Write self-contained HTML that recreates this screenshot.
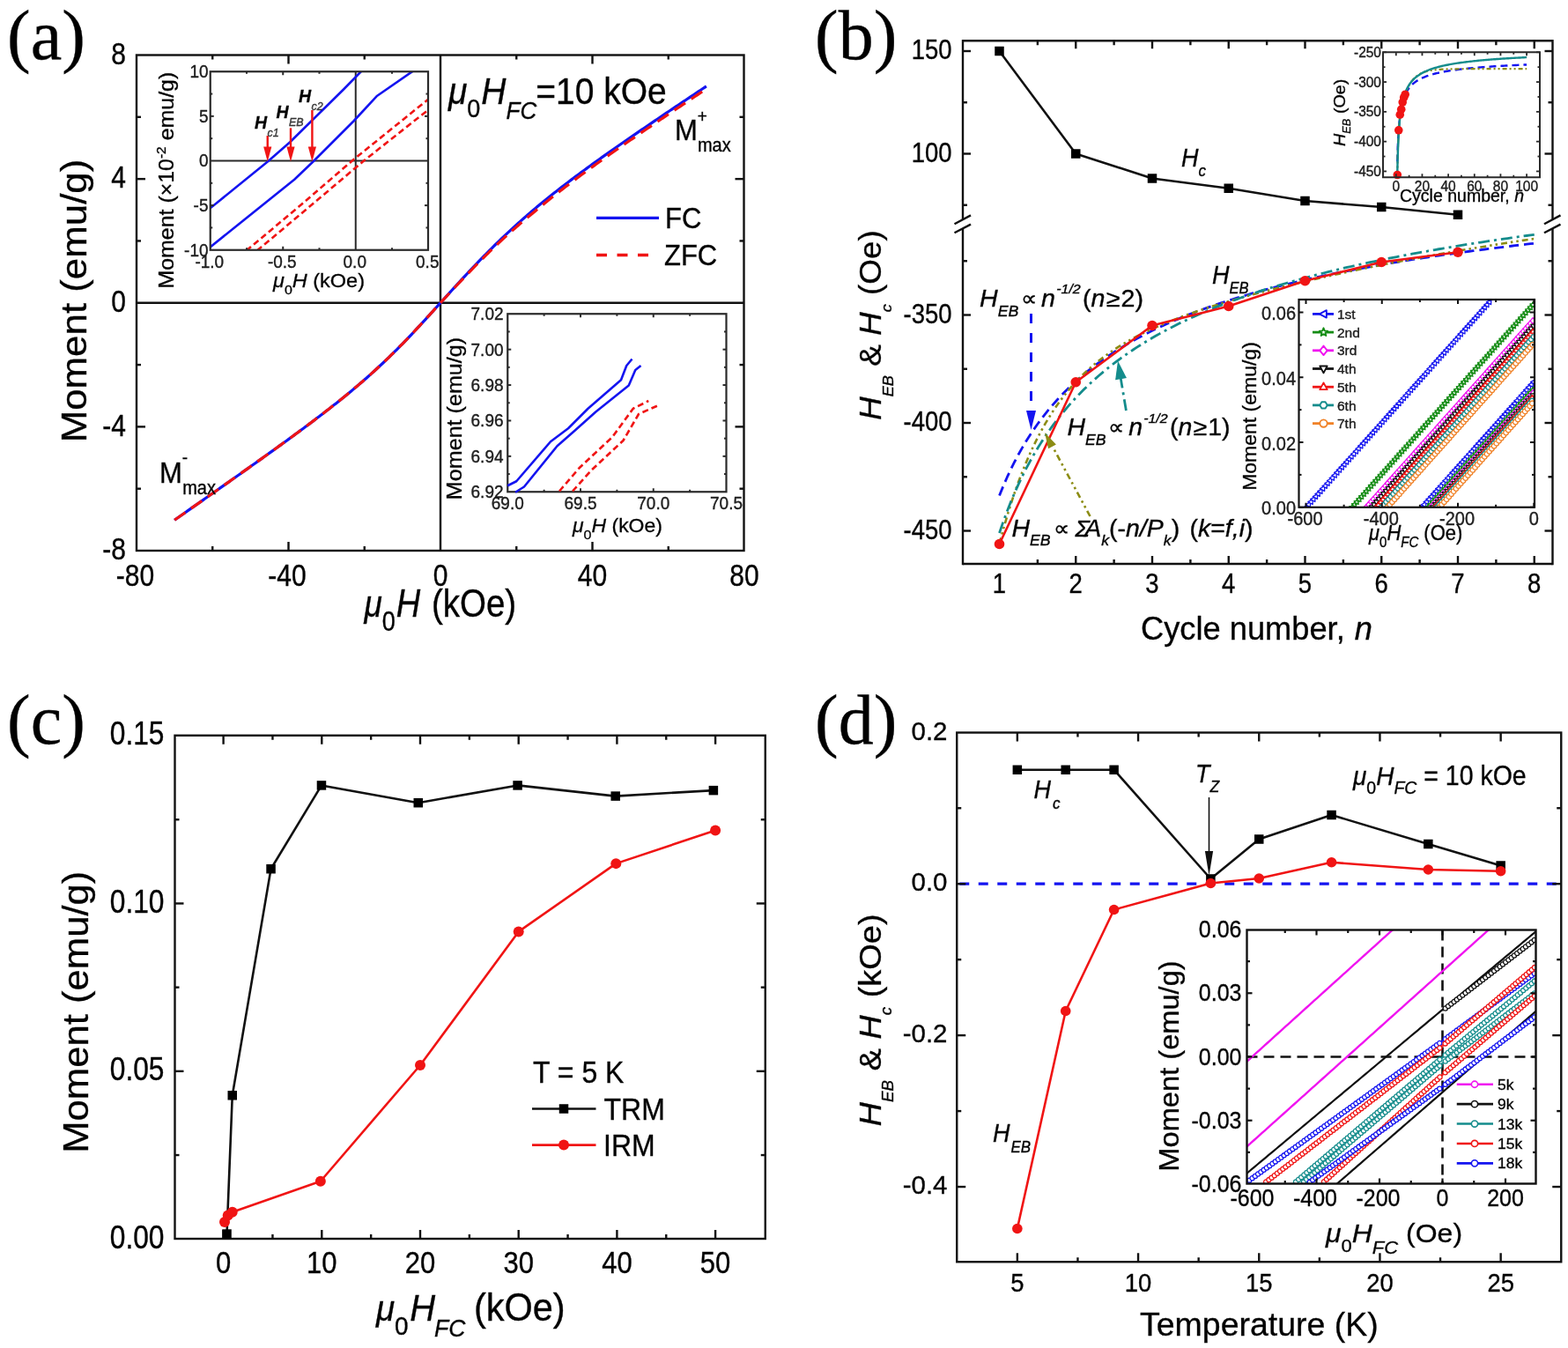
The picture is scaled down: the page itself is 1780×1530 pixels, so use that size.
<!DOCTYPE html>
<html><head><meta charset="utf-8"><title>Figure</title>
<style>html,body{margin:0;padding:0;background:#fff;overflow:hidden}svg{display:block}</style>
</head><body>
<svg xmlns="http://www.w3.org/2000/svg" width="1780" height="1530" viewBox="0 0 1780 1530" font-family="'Liberation Sans', Arial, Helvetica, sans-serif" fill="#000">
<style>text{stroke:#111;stroke-width:0.35px}</style>
<rect width="1780" height="1530" fill="#fff"/>
<text transform="translate(8,67) scale(1,1.0)" font-size="80" font-family="'Liberation Serif', 'Times New Roman', serif" >(a)</text>
<line x1="155" y1="343.75" x2="844.5" y2="343.75" stroke="#111" stroke-width="2.4" />
<line x1="500" y1="62.5" x2="500" y2="625" stroke="#111" stroke-width="2.4" />
<polyline points="198.12,590.25 200.28,588.74 202.44,587.23 204.59,585.72 206.75,584.21 208.91,582.7 211.06,581.19 213.22,579.68 215.38,578.16 217.53,576.65 219.69,575.14 221.84,573.63 224,572.12 226.16,570.6 228.31,569.09 230.47,567.57 232.62,566.06 234.78,564.55 236.94,563.03 239.09,561.52 241.25,560 243.41,558.48 245.56,556.97 247.72,555.45 249.88,553.93 252.03,552.41 254.19,550.9 256.34,549.38 258.5,547.86 260.66,546.34 262.81,544.81 264.97,543.29 267.12,541.77 269.28,540.25 271.44,538.72 273.59,537.2 275.75,535.67 277.91,534.14 280.06,532.61 282.22,531.08 284.38,529.55 286.53,528.02 288.69,526.49 290.84,524.96 293,523.42 295.16,521.88 297.31,520.34 299.47,518.8 301.62,517.26 303.78,515.72 305.94,514.17 308.09,512.63 310.25,511.08 312.41,509.53 314.56,507.97 316.72,506.42 318.88,504.86 321.03,503.3 323.19,501.73 325.34,500.17 327.5,498.6 329.66,497.03 331.81,495.45 333.97,493.87 336.12,492.29 338.28,490.7 340.44,489.12 342.59,487.52 344.75,485.92 346.91,484.32 349.06,482.71 351.22,481.1 353.38,479.49 355.53,477.86 357.69,476.24 359.84,474.6 362,472.96 364.16,471.32 366.31,469.67 368.47,468.01 370.62,466.34 372.78,464.67 374.94,462.99 377.09,461.3 379.25,459.61 381.41,457.9 383.56,456.19 385.72,454.46 387.88,452.73 390.03,450.99 392.19,449.24 394.34,447.47 396.5,445.7 398.66,443.91 400.81,442.12 402.97,440.31 405.12,438.49 407.28,436.65 409.44,434.81 411.59,432.95 413.75,431.07 415.91,429.18 418.06,427.28 420.22,425.36 422.38,423.43 424.53,421.48 426.69,419.51 428.84,417.53 431,415.54 433.16,413.53 435.31,411.5 437.47,409.45 439.62,407.39 441.78,405.31 443.94,403.21 446.09,401.1 448.25,398.97 450.41,396.82 452.56,394.65 454.72,392.47 456.88,390.28 459.03,388.06 461.19,385.83 463.34,383.59 465.5,381.33 467.66,379.06 469.81,376.77 471.97,374.47 474.12,372.16 476.28,369.84 478.44,367.5 480.59,365.16 482.75,362.8 484.91,360.44 487.06,358.07 489.22,355.69 491.38,353.31 493.53,350.92 495.69,348.53 497.84,346.14 500,343.75 502.16,341.37 504.31,338.99 506.47,336.61 508.62,334.23 510.78,331.85 512.94,329.48 515.09,327.12 517.25,324.76 519.41,322.4 521.56,320.05 523.72,317.71 525.88,315.38 528.03,313.06 530.19,310.75 532.34,308.44 534.5,306.15 536.66,303.87 538.81,301.6 540.97,299.34 543.12,297.1 545.28,294.86 547.44,292.64 549.59,290.44 551.75,288.25 553.91,286.07 556.06,283.91 558.22,281.76 560.38,279.63 562.53,277.51 564.69,275.4 566.84,273.31 569,271.24 571.16,269.18 573.31,267.14 575.47,265.11 577.62,263.1 579.78,261.1 581.94,259.11 584.09,257.15 586.25,255.19 588.41,253.25 590.56,251.33 592.72,249.41 594.88,247.52 597.03,245.63 599.19,243.76 601.34,241.91 603.5,240.06 605.66,238.23 607.81,236.41 609.97,234.6 612.12,232.81 614.28,231.03 616.44,229.26 618.59,227.5 620.75,225.75 622.91,224.01 625.06,222.28 627.22,220.56 629.38,218.85 631.53,217.16 633.69,215.47 635.84,213.79 638,212.12 640.16,210.45 642.31,208.8 644.47,207.15 646.62,205.52 648.78,203.89 650.94,202.26 653.09,200.65 655.25,199.04 657.41,197.44 659.56,195.84 661.72,194.25 663.88,192.67 666.03,191.09 668.19,189.52 670.34,187.95 672.5,186.39 674.66,184.84 676.81,183.29 678.97,181.74 681.12,180.2 683.28,178.66 685.44,177.13 687.59,175.6 689.75,174.08 691.91,172.56 694.06,171.04 696.22,169.53 698.38,168.02 700.53,166.51 702.69,165.01 704.84,163.51 707,162.01 709.16,160.52 711.31,159.03 713.47,157.54 715.62,156.05 717.78,154.57 719.94,153.09 722.09,151.61 724.25,150.13 726.41,148.65 728.56,147.18 730.72,145.71 732.88,144.24 735.03,142.78 737.19,141.31 739.34,139.85 741.5,138.38 743.66,136.92 745.81,135.46 747.97,134.01 750.12,132.55 752.28,131.1 754.44,129.64 756.59,128.19 758.75,126.74 760.91,125.29 763.06,123.84 765.22,122.39 767.38,120.94 769.53,119.5 771.69,118.05 773.84,116.61 776,115.17 778.16,113.72 780.31,112.28 782.47,110.84 784.62,109.4 786.78,107.96 788.94,106.52 791.09,105.08 793.25,103.65 795.41,102.21 797.56,100.77 799.72,99.34 801.88,97.9" fill="none" stroke="#1414f0" stroke-width="3.2" stroke-linejoin="round" />
<polyline points="198.12,590.25 200.28,588.74 202.44,587.23 204.59,585.72 206.75,584.21 208.91,582.7 211.06,581.19 213.22,579.68 215.38,578.16 217.53,576.65 219.69,575.14 221.84,573.63 224,572.12 226.16,570.6 228.31,569.09 230.47,567.57 232.62,566.06 234.78,564.55 236.94,563.03 239.09,561.52 241.25,560 243.41,558.48 245.56,556.97 247.72,555.45 249.88,553.93 252.03,552.41 254.19,550.9 256.34,549.38 258.5,547.86 260.66,546.34 262.81,544.81 264.97,543.29 267.12,541.77 269.28,540.25 271.44,538.72 273.59,537.2 275.75,535.67 277.91,534.14 280.06,532.61 282.22,531.08 284.38,529.55 286.53,528.02 288.69,526.49 290.84,524.96 293,523.42 295.16,521.88 297.31,520.34 299.47,518.8 301.62,517.26 303.78,515.72 305.94,514.17 308.09,512.63 310.25,511.08 312.41,509.53 314.56,507.97 316.72,506.42 318.88,504.86 321.03,503.3 323.19,501.73 325.34,500.17 327.5,498.6 329.66,497.03 331.81,495.45 333.97,493.87 336.12,492.29 338.28,490.7 340.44,489.12 342.59,487.52 344.75,485.92 346.91,484.32 349.06,482.71 351.22,481.1 353.38,479.49 355.53,477.86 357.69,476.24 359.84,474.6 362,472.96 364.16,471.32 366.31,469.67 368.47,468.01 370.62,466.34 372.78,464.67 374.94,462.99 377.09,461.3 379.25,459.61 381.41,457.9 383.56,456.19 385.72,454.46 387.88,452.73 390.03,450.99 392.19,449.24 394.34,447.47 396.5,445.7 398.66,443.91 400.81,442.12 402.97,440.31 405.12,438.49 407.28,436.65 409.44,434.81 411.59,432.95 413.75,431.07 415.91,429.18 418.06,427.28 420.22,425.36 422.38,423.43 424.53,421.48 426.69,419.51 428.84,417.53 431,415.54 433.16,413.53 435.31,411.5 437.47,409.45 439.62,407.39 441.78,405.31 443.94,403.21 446.09,401.1 448.25,398.97 450.41,396.82 452.56,394.65 454.72,392.47 456.88,390.28 459.03,388.06 461.19,385.83 463.34,383.59 465.5,381.33 467.66,379.06 469.81,376.77 471.97,374.47 474.12,372.16 476.28,369.84 478.44,367.5 480.59,365.16 482.75,362.8 484.91,360.44 487.06,358.07 489.22,355.69 491.38,353.31 493.53,350.92 495.69,348.53 497.84,346.14 500,343.75 502.16,341.43 504.31,339.11 506.47,336.79 508.62,334.47 510.78,332.15 512.94,329.84 515.09,327.54 517.25,325.24 519.41,322.94 521.56,320.65 523.72,318.37 525.88,316.1 528.03,313.84 530.19,311.59 532.34,309.34 534.5,307.11 536.66,304.89 538.81,302.68 540.97,300.48 543.12,298.3 545.28,296.12 547.44,293.96 549.59,291.82 551.75,289.69 553.91,287.57 556.06,285.47 558.22,283.38 560.38,281.31 562.53,279.25 564.69,277.2 566.84,275.17 569,273.16 571.16,271.16 573.31,269.18 575.47,267.21 577.62,265.26 579.78,263.32 581.94,261.39 584.09,259.49 586.25,257.59 588.41,255.71 590.56,253.85 592.72,251.99 594.88,250.16 597.03,248.33 599.19,246.52 601.34,244.73 603.5,242.94 605.66,241.17 607.81,239.41 609.97,237.6 612.12,235.81 614.28,234.03 616.44,232.26 618.59,230.5 620.75,228.75 622.91,227.01 625.06,225.28 627.22,223.56 629.38,221.85 631.53,220.16 633.69,218.47 635.84,216.79 638,215.12 640.16,213.45 642.31,211.8 644.47,210.15 646.62,208.52 648.78,206.89 650.94,205.26 653.09,203.65 655.25,202.04 657.41,200.44 659.56,198.84 661.72,197.25 663.88,195.67 666.03,194.09 668.19,192.52 670.34,190.95 672.5,189.39 674.66,187.84 676.81,186.29 678.97,184.74 681.12,183.2 683.28,181.66 685.44,180.13 687.59,178.6 689.75,177.08 691.91,175.56 694.06,174.04 696.22,172.53 698.38,171.02 700.53,169.51 702.69,168.01 704.84,166.51 707,165.01 709.16,163.52 711.31,162.03 713.47,160.54 715.62,159.05 717.78,157.57 719.94,156.09 722.09,154.61 724.25,153.13 726.41,151.65 728.56,150.18 730.72,148.71 732.88,147.24 735.03,145.78 737.19,144.31 739.34,142.85 741.5,141.38 743.66,139.92 745.81,138.46 747.97,137.01 750.12,135.55 752.28,134.1 754.44,132.64 756.59,131.19 758.75,129.74 760.91,128.29 763.06,126.84 765.22,125.39 767.38,123.94 769.53,122.5 771.69,121.05 773.84,119.61 776,118.17 778.16,116.72 780.31,115.28 782.47,113.84 784.62,112.4 786.78,110.96 788.94,109.52 791.09,108.08 793.25,106.65 795.41,105.21 797.56,103.77 799.72,102.34 801.88,100.9" fill="none" stroke="#f01414" stroke-width="3.2" stroke-linejoin="round" stroke-dasharray="15 8"/>
<rect x="155" y="62.5" width="689.5" height="562.5" fill="none" stroke="#111" stroke-width="2.4" />
<line x1="241.25" y1="625" x2="241.25" y2="620" stroke="#111" stroke-width="2.4" />
<line x1="241.25" y1="62.5" x2="241.25" y2="67.5" stroke="#111" stroke-width="2.4" />
<line x1="327.5" y1="625" x2="327.5" y2="615" stroke="#111" stroke-width="2.4" />
<line x1="327.5" y1="62.5" x2="327.5" y2="72.5" stroke="#111" stroke-width="2.4" />
<line x1="413.75" y1="625" x2="413.75" y2="620" stroke="#111" stroke-width="2.4" />
<line x1="413.75" y1="62.5" x2="413.75" y2="67.5" stroke="#111" stroke-width="2.4" />
<line x1="586.25" y1="625" x2="586.25" y2="620" stroke="#111" stroke-width="2.4" />
<line x1="586.25" y1="62.5" x2="586.25" y2="67.5" stroke="#111" stroke-width="2.4" />
<line x1="672.5" y1="625" x2="672.5" y2="615" stroke="#111" stroke-width="2.4" />
<line x1="672.5" y1="62.5" x2="672.5" y2="72.5" stroke="#111" stroke-width="2.4" />
<line x1="758.75" y1="625" x2="758.75" y2="620" stroke="#111" stroke-width="2.4" />
<line x1="758.75" y1="62.5" x2="758.75" y2="67.5" stroke="#111" stroke-width="2.4" />
<line x1="155" y1="554.69" x2="160" y2="554.69" stroke="#111" stroke-width="2.4" />
<line x1="844.5" y1="554.69" x2="839.5" y2="554.69" stroke="#111" stroke-width="2.4" />
<line x1="155" y1="484.37" x2="165" y2="484.37" stroke="#111" stroke-width="2.4" />
<line x1="844.5" y1="484.37" x2="834.5" y2="484.37" stroke="#111" stroke-width="2.4" />
<line x1="155" y1="414.06" x2="160" y2="414.06" stroke="#111" stroke-width="2.4" />
<line x1="844.5" y1="414.06" x2="839.5" y2="414.06" stroke="#111" stroke-width="2.4" />
<line x1="155" y1="273.44" x2="160" y2="273.44" stroke="#111" stroke-width="2.4" />
<line x1="844.5" y1="273.44" x2="839.5" y2="273.44" stroke="#111" stroke-width="2.4" />
<line x1="155" y1="203.13" x2="165" y2="203.13" stroke="#111" stroke-width="2.4" />
<line x1="844.5" y1="203.13" x2="834.5" y2="203.13" stroke="#111" stroke-width="2.4" />
<line x1="155" y1="132.81" x2="160" y2="132.81" stroke="#111" stroke-width="2.4" />
<line x1="844.5" y1="132.81" x2="839.5" y2="132.81" stroke="#111" stroke-width="2.4" />
<text transform="translate(143,72.8) scale(1,1.145)" font-size="30" text-anchor="end" >8</text>
<text transform="translate(143,213.42) scale(1,1.145)" font-size="30" text-anchor="end" >4</text>
<text transform="translate(143,354.05) scale(1,1.145)" font-size="30" text-anchor="end" >0</text>
<text transform="translate(143,494.67) scale(1,1.145)" font-size="30" text-anchor="end" >-4</text>
<text transform="translate(143,635.3) scale(1,1.145)" font-size="30" text-anchor="end" >-8</text>
<text transform="translate(153.5,665.2) scale(1,1.145)" font-size="30" text-anchor="middle" >-80</text>
<text transform="translate(326,665.2) scale(1,1.145)" font-size="30" text-anchor="middle" >-40</text>
<text transform="translate(500,665.2) scale(1,1.145)" font-size="30" text-anchor="middle" >0</text>
<text transform="translate(672.5,665.2) scale(1,1.145)" font-size="30" text-anchor="middle" >40</text>
<text transform="translate(845,665.2) scale(1,1.145)" font-size="30" text-anchor="middle" >80</text>
<text transform="translate(98.2,341.5) scale(1,1.07) rotate(-90)" font-size="41" text-anchor="middle" >Moment (emu/g)</text>
<text transform="translate(413.5,699.5) scale(1,1.15)"><tspan y="0" font-size="37" font-style="italic">μ</tspan><tspan y="13.91" font-size="27">0</tspan><tspan y="0" font-size="38" font-style="italic" dx="1">H</tspan><tspan y="0" font-size="38.5" dx="2"> (kOe)</tspan></text>
<text transform="translate(509,117.5) scale(1,1.07)"><tspan y="0" font-size="39" font-style="italic">μ</tspan><tspan y="14.95" font-size="27">0</tspan><tspan y="0" font-size="39" font-style="italic" dx="1">H</tspan><tspan y="15.89" font-size="26" font-style="italic">FC</tspan><tspan y="0" font-size="39" dx="-1">=10 kOe</tspan></text>
<text transform="translate(766,158.5) scale(1,1.07)"><tspan y="0" font-size="31">M</tspan><tspan y="-18.69" font-size="19">+</tspan><tspan y="12.15" font-size="20" dx="-11">max</tspan></text>
<text transform="translate(181,547.5) scale(1,1.07)"><tspan y="0" font-size="31">M</tspan><tspan y="-19.63" font-size="19">-</tspan><tspan y="12.62" font-size="20" dx="-6">max</tspan></text>
<line x1="677" y1="247.4" x2="748" y2="247.4" stroke="#1414f0" stroke-width="3.4" />
<line x1="677" y1="289.5" x2="737" y2="289.5" stroke="#f01414" stroke-width="3.4" stroke-dasharray="12 11.5"/>
<text transform="translate(755,259) scale(1,1.07)" font-size="31" >FC</text>
<text transform="translate(754,301) scale(1,1.07)" font-size="31" >ZFC</text>
<rect x="238.75" y="81.25" width="247.25" height="202.5" fill="#fff"/>
<line x1="238.75" y1="182.5" x2="486" y2="182.5" stroke="#2a2a2a" stroke-width="2.0" />
<line x1="403.75" y1="81.25" x2="403.75" y2="283.75" stroke="#2a2a2a" stroke-width="2.0" />
<clipPath id="ci1"><rect x="238.75" y="81.25" width="247.25" height="202.5"/></clipPath>
<g clip-path="url(#ci1)">
<polyline points="238,236.8 303.8,183.5 329,161.5 390,101.5 410,81 412,79" fill="none" stroke="#1414f0" stroke-width="2.6" stroke-linejoin="round" />
<polyline points="238,281 334.2,203.7 355.4,183.5 401.9,137 428.2,108.7 467.7,81.4 470,79.5" fill="none" stroke="#1414f0" stroke-width="2.6" stroke-linejoin="round" />
<polyline points="279.6,284.6 342.3,232 400.9,181.5 487,112" fill="none" stroke="#f01414" stroke-width="2.6" stroke-linejoin="round" stroke-dasharray="7 4"/>
<polyline points="291.7,284.6 354.4,232 413,182.5 487,124" fill="none" stroke="#f01414" stroke-width="2.6" stroke-linejoin="round" stroke-dasharray="7 4"/>
</g>
<rect x="238.75" y="81.25" width="247.25" height="202.5" fill="none" stroke="#2a2a2a" stroke-width="2.2" />
<line x1="280" y1="283.75" x2="280" y2="281.25" stroke="#2a2a2a" stroke-width="2.0" />
<line x1="280" y1="81.25" x2="280" y2="83.75" stroke="#2a2a2a" stroke-width="2.0" />
<line x1="321.25" y1="283.75" x2="321.25" y2="279.75" stroke="#2a2a2a" stroke-width="2.0" />
<line x1="321.25" y1="81.25" x2="321.25" y2="85.25" stroke="#2a2a2a" stroke-width="2.0" />
<line x1="362.5" y1="283.75" x2="362.5" y2="281.25" stroke="#2a2a2a" stroke-width="2.0" />
<line x1="362.5" y1="81.25" x2="362.5" y2="83.75" stroke="#2a2a2a" stroke-width="2.0" />
<line x1="445" y1="283.75" x2="445" y2="281.25" stroke="#2a2a2a" stroke-width="2.0" />
<line x1="445" y1="81.25" x2="445" y2="83.75" stroke="#2a2a2a" stroke-width="2.0" />
<line x1="238.75" y1="258.44" x2="241.25" y2="258.44" stroke="#2a2a2a" stroke-width="2.0" />
<line x1="486" y1="258.44" x2="483.5" y2="258.44" stroke="#2a2a2a" stroke-width="2.0" />
<line x1="238.75" y1="233.12" x2="242.75" y2="233.12" stroke="#2a2a2a" stroke-width="2.0" />
<line x1="486" y1="233.12" x2="482" y2="233.12" stroke="#2a2a2a" stroke-width="2.0" />
<line x1="238.75" y1="207.81" x2="241.25" y2="207.81" stroke="#2a2a2a" stroke-width="2.0" />
<line x1="486" y1="207.81" x2="483.5" y2="207.81" stroke="#2a2a2a" stroke-width="2.0" />
<line x1="238.75" y1="157.19" x2="241.25" y2="157.19" stroke="#2a2a2a" stroke-width="2.0" />
<line x1="486" y1="157.19" x2="483.5" y2="157.19" stroke="#2a2a2a" stroke-width="2.0" />
<line x1="238.75" y1="131.88" x2="242.75" y2="131.88" stroke="#2a2a2a" stroke-width="2.0" />
<line x1="486" y1="131.88" x2="482" y2="131.88" stroke="#2a2a2a" stroke-width="2.0" />
<line x1="238.75" y1="106.56" x2="241.25" y2="106.56" stroke="#2a2a2a" stroke-width="2.0" />
<line x1="486" y1="106.56" x2="483.5" y2="106.56" stroke="#2a2a2a" stroke-width="2.0" />
<text transform="translate(236.5,88.05) scale(1,1.07)" font-size="19" text-anchor="end" fill="#222" >10</text>
<text transform="translate(236.5,138.68) scale(1,1.07)" font-size="19" text-anchor="end" fill="#222" >5</text>
<text transform="translate(236.5,189.3) scale(1,1.07)" font-size="19" text-anchor="end" fill="#222" >0</text>
<text transform="translate(236.5,239.93) scale(1,1.07)" font-size="19" text-anchor="end" fill="#222" >-5</text>
<text transform="translate(236.5,290.55) scale(1,1.07)" font-size="19" text-anchor="end" fill="#222" >-10</text>
<text transform="translate(237.75,304) scale(1,1.07)" font-size="19" text-anchor="middle" fill="#222" >-1.0</text>
<text transform="translate(320.25,304) scale(1,1.07)" font-size="19" text-anchor="middle" fill="#222" >-0.5</text>
<text transform="translate(402.75,304) scale(1,1.07)" font-size="19" text-anchor="middle" fill="#222" >0.0</text>
<text transform="translate(485.25,304) scale(1,1.07)" font-size="19" text-anchor="middle" fill="#222" >0.5</text>
<text transform="translate(197,327.5) scale(1,1.07) rotate(-90)"><tspan y="0" font-size="23.3">Moment (×10</tspan><tspan y="-9" font-size="14.5">-2</tspan><tspan y="0" font-size="23.3"> emu/g)</tspan></text>
<text transform="translate(310,325.5) scale(1,0.92)"><tspan y="0" font-size="23.5" font-style="italic">μ</tspan><tspan y="8.7" font-size="16">0</tspan><tspan y="0" font-size="23.5" font-style="italic">H</tspan><tspan y="0" font-size="23.5"> (kOe)</tspan></text>
<line x1="303.75" y1="154" x2="303.75" y2="170" stroke="#f01414" stroke-width="2.4" />
<polygon points="303.75,183.5 299.15,166.5 308.35,166.5" fill="#f01414"/>
<line x1="330" y1="145.3" x2="330" y2="170" stroke="#f01414" stroke-width="2.4" />
<polygon points="330,183.5 325.4,166.5 334.6,166.5" fill="#f01414"/>
<line x1="354.4" y1="125" x2="354.4" y2="170" stroke="#f01414" stroke-width="2.4" />
<polygon points="354.4,183.5 349.8,166.5 359,166.5" fill="#f01414"/>
<text transform="translate(289,146) scale(1,1.0)"><tspan y="0" font-size="19.5" font-style="italic" font-weight="bold">H</tspan></text>
<text transform="translate(303.5,155) scale(1,1.0)" font-size="12.5" fill="#555" font-style="italic">c1</text>
<text transform="translate(313.5,133.8) scale(1,1.0)"><tspan y="0" font-size="19.5" font-style="italic" font-weight="bold">H</tspan></text>
<text transform="translate(328,142.8) scale(1,1.0)" font-size="12.5" fill="#555" font-style="italic">EB</text>
<text transform="translate(339,115.6) scale(1,1.0)"><tspan y="0" font-size="19.5" font-style="italic" font-weight="bold">H</tspan></text>
<text transform="translate(353.5,124.6) scale(1,1.0)" font-size="12.5" fill="#555" font-style="italic">c2</text>
<rect x="576.25" y="356.25" width="248.25" height="202" fill="none" stroke="#2a2a2a" stroke-width="2.2" />
<line x1="617.62" y1="558.25" x2="617.62" y2="555.75" stroke="#2a2a2a" stroke-width="2.0" />
<line x1="617.62" y1="356.25" x2="617.62" y2="358.75" stroke="#2a2a2a" stroke-width="2.0" />
<line x1="659" y1="558.25" x2="659" y2="554.25" stroke="#2a2a2a" stroke-width="2.0" />
<line x1="659" y1="356.25" x2="659" y2="360.25" stroke="#2a2a2a" stroke-width="2.0" />
<line x1="700.38" y1="558.25" x2="700.38" y2="555.75" stroke="#2a2a2a" stroke-width="2.0" />
<line x1="700.38" y1="356.25" x2="700.38" y2="358.75" stroke="#2a2a2a" stroke-width="2.0" />
<line x1="741.75" y1="558.25" x2="741.75" y2="554.25" stroke="#2a2a2a" stroke-width="2.0" />
<line x1="741.75" y1="356.25" x2="741.75" y2="360.25" stroke="#2a2a2a" stroke-width="2.0" />
<line x1="783.12" y1="558.25" x2="783.12" y2="555.75" stroke="#2a2a2a" stroke-width="2.0" />
<line x1="783.12" y1="356.25" x2="783.12" y2="358.75" stroke="#2a2a2a" stroke-width="2.0" />
<line x1="576.25" y1="538.05" x2="578.75" y2="538.05" stroke="#2a2a2a" stroke-width="2.0" />
<line x1="824.5" y1="538.05" x2="822" y2="538.05" stroke="#2a2a2a" stroke-width="2.0" />
<line x1="576.25" y1="517.85" x2="580.25" y2="517.85" stroke="#2a2a2a" stroke-width="2.0" />
<line x1="824.5" y1="517.85" x2="820.5" y2="517.85" stroke="#2a2a2a" stroke-width="2.0" />
<line x1="576.25" y1="497.65" x2="578.75" y2="497.65" stroke="#2a2a2a" stroke-width="2.0" />
<line x1="824.5" y1="497.65" x2="822" y2="497.65" stroke="#2a2a2a" stroke-width="2.0" />
<line x1="576.25" y1="477.45" x2="580.25" y2="477.45" stroke="#2a2a2a" stroke-width="2.0" />
<line x1="824.5" y1="477.45" x2="820.5" y2="477.45" stroke="#2a2a2a" stroke-width="2.0" />
<line x1="576.25" y1="457.25" x2="578.75" y2="457.25" stroke="#2a2a2a" stroke-width="2.0" />
<line x1="824.5" y1="457.25" x2="822" y2="457.25" stroke="#2a2a2a" stroke-width="2.0" />
<line x1="576.25" y1="437.05" x2="580.25" y2="437.05" stroke="#2a2a2a" stroke-width="2.0" />
<line x1="824.5" y1="437.05" x2="820.5" y2="437.05" stroke="#2a2a2a" stroke-width="2.0" />
<line x1="576.25" y1="416.85" x2="578.75" y2="416.85" stroke="#2a2a2a" stroke-width="2.0" />
<line x1="824.5" y1="416.85" x2="822" y2="416.85" stroke="#2a2a2a" stroke-width="2.0" />
<line x1="576.25" y1="396.65" x2="580.25" y2="396.65" stroke="#2a2a2a" stroke-width="2.0" />
<line x1="824.5" y1="396.65" x2="820.5" y2="396.65" stroke="#2a2a2a" stroke-width="2.0" />
<line x1="576.25" y1="376.45" x2="578.75" y2="376.45" stroke="#2a2a2a" stroke-width="2.0" />
<line x1="824.5" y1="376.45" x2="822" y2="376.45" stroke="#2a2a2a" stroke-width="2.0" />
<text transform="translate(571.5,565.25) scale(1,1.07)" font-size="19" text-anchor="end" fill="#222" >6.92</text>
<text transform="translate(571.5,524.85) scale(1,1.07)" font-size="19" text-anchor="end" fill="#222" >6.94</text>
<text transform="translate(571.5,484.45) scale(1,1.07)" font-size="19" text-anchor="end" fill="#222" >6.96</text>
<text transform="translate(571.5,444.05) scale(1,1.07)" font-size="19" text-anchor="end" fill="#222" >6.98</text>
<text transform="translate(571.5,403.65) scale(1,1.07)" font-size="19" text-anchor="end" fill="#222" >7.00</text>
<text transform="translate(571.5,363.25) scale(1,1.07)" font-size="19" text-anchor="end" fill="#222" >7.02</text>
<text transform="translate(576.25,577.5) scale(1,1.07)" font-size="19" text-anchor="middle" fill="#222" >69.0</text>
<text transform="translate(659,577.5) scale(1,1.07)" font-size="19" text-anchor="middle" fill="#222" >69.5</text>
<text transform="translate(741.75,577.5) scale(1,1.07)" font-size="19" text-anchor="middle" fill="#222" >70.0</text>
<text transform="translate(824.5,577.5) scale(1,1.07)" font-size="19" text-anchor="middle" fill="#222" >70.5</text>
<text transform="translate(524,475) scale(1,1.07) rotate(-90)" font-size="23.5" text-anchor="middle" >Moment (emu/g)</text>
<text transform="translate(650,604) scale(1,0.93)"><tspan y="0" font-size="23" font-style="italic">μ</tspan><tspan y="8.6" font-size="16">0</tspan><tspan y="0" font-size="23" font-style="italic">H</tspan><tspan y="0" font-size="23"> (kOe)</tspan></text>
<polyline points="576.25,551.25 586.25,546.25 625,501.25 645,486.25 667.5,463.75 705,431.25 711.25,415 717.5,407.5" fill="none" stroke="#1414f0" stroke-width="2.6" stroke-linejoin="round" />
<polyline points="585,558.75 595,552.5 632.5,506.25 652.5,488.75 676.25,467.5 713.75,437.5 721.25,420 727.5,415" fill="none" stroke="#1414f0" stroke-width="2.6" stroke-linejoin="round" />
<polyline points="635,557.5 657.5,531.25 695,496.25 718.75,463.75 736.25,455" fill="none" stroke="#f01414" stroke-width="2.6" stroke-linejoin="round" stroke-dasharray="7 4"/>
<polyline points="650,557.5 671.25,533.75 707.5,500 725,470 747.5,460" fill="none" stroke="#f01414" stroke-width="2.6" stroke-linejoin="round" stroke-dasharray="7 4"/>
<text transform="translate(925,67) scale(1,1.0)" font-size="80" font-family="'Liberation Serif', 'Times New Roman', serif" >(b)</text>
<line x1="1093" y1="46.25" x2="1762.5" y2="46.25" stroke="#111" stroke-width="2.4" />
<line x1="1093" y1="640" x2="1762.5" y2="640" stroke="#111" stroke-width="2.4" />
<line x1="1093" y1="45.05" x2="1093" y2="249.5" stroke="#111" stroke-width="2.4" />
<line x1="1093" y1="259.5" x2="1093" y2="641.2" stroke="#111" stroke-width="2.4" />
<line x1="1083.5" y1="254.2" x2="1102" y2="244.4" stroke="#111" stroke-width="2.4" />
<line x1="1083.5" y1="264.2" x2="1102" y2="254.6" stroke="#111" stroke-width="2.4" />
<line x1="1762.5" y1="45.05" x2="1762.5" y2="249.5" stroke="#111" stroke-width="2.4" />
<line x1="1762.5" y1="259.5" x2="1762.5" y2="641.2" stroke="#111" stroke-width="2.4" />
<line x1="1753" y1="254.2" x2="1771.5" y2="244.4" stroke="#111" stroke-width="2.4" />
<line x1="1753" y1="264.2" x2="1771.5" y2="254.6" stroke="#111" stroke-width="2.4" />
<line x1="1177.88" y1="640" x2="1177.88" y2="635" stroke="#111" stroke-width="2.4" />
<line x1="1177.88" y1="46.25" x2="1177.88" y2="51.25" stroke="#111" stroke-width="2.4" />
<line x1="1221.25" y1="640" x2="1221.25" y2="631" stroke="#111" stroke-width="2.4" />
<line x1="1221.25" y1="46.25" x2="1221.25" y2="55.25" stroke="#111" stroke-width="2.4" />
<line x1="1264.62" y1="640" x2="1264.62" y2="635" stroke="#111" stroke-width="2.4" />
<line x1="1264.62" y1="46.25" x2="1264.62" y2="51.25" stroke="#111" stroke-width="2.4" />
<line x1="1308" y1="640" x2="1308" y2="631" stroke="#111" stroke-width="2.4" />
<line x1="1308" y1="46.25" x2="1308" y2="55.25" stroke="#111" stroke-width="2.4" />
<line x1="1351.38" y1="640" x2="1351.38" y2="635" stroke="#111" stroke-width="2.4" />
<line x1="1351.38" y1="46.25" x2="1351.38" y2="51.25" stroke="#111" stroke-width="2.4" />
<line x1="1394.75" y1="640" x2="1394.75" y2="631" stroke="#111" stroke-width="2.4" />
<line x1="1394.75" y1="46.25" x2="1394.75" y2="55.25" stroke="#111" stroke-width="2.4" />
<line x1="1438.12" y1="640" x2="1438.12" y2="635" stroke="#111" stroke-width="2.4" />
<line x1="1438.12" y1="46.25" x2="1438.12" y2="51.25" stroke="#111" stroke-width="2.4" />
<line x1="1481.5" y1="640" x2="1481.5" y2="631" stroke="#111" stroke-width="2.4" />
<line x1="1481.5" y1="46.25" x2="1481.5" y2="55.25" stroke="#111" stroke-width="2.4" />
<line x1="1524.88" y1="640" x2="1524.88" y2="635" stroke="#111" stroke-width="2.4" />
<line x1="1524.88" y1="46.25" x2="1524.88" y2="51.25" stroke="#111" stroke-width="2.4" />
<line x1="1568.25" y1="640" x2="1568.25" y2="631" stroke="#111" stroke-width="2.4" />
<line x1="1568.25" y1="46.25" x2="1568.25" y2="55.25" stroke="#111" stroke-width="2.4" />
<line x1="1611.62" y1="640" x2="1611.62" y2="635" stroke="#111" stroke-width="2.4" />
<line x1="1611.62" y1="46.25" x2="1611.62" y2="51.25" stroke="#111" stroke-width="2.4" />
<line x1="1655" y1="640" x2="1655" y2="631" stroke="#111" stroke-width="2.4" />
<line x1="1655" y1="46.25" x2="1655" y2="55.25" stroke="#111" stroke-width="2.4" />
<line x1="1698.38" y1="640" x2="1698.38" y2="635" stroke="#111" stroke-width="2.4" />
<line x1="1698.38" y1="46.25" x2="1698.38" y2="51.25" stroke="#111" stroke-width="2.4" />
<line x1="1741.75" y1="640" x2="1741.75" y2="631" stroke="#111" stroke-width="2.4" />
<line x1="1741.75" y1="46.25" x2="1741.75" y2="55.25" stroke="#111" stroke-width="2.4" />
<line x1="1093" y1="58" x2="1102" y2="58" stroke="#111" stroke-width="2.4" />
<line x1="1762.5" y1="58" x2="1753.5" y2="58" stroke="#111" stroke-width="2.4" />
<line x1="1093" y1="116.25" x2="1098" y2="116.25" stroke="#111" stroke-width="2.4" />
<line x1="1762.5" y1="116.25" x2="1757.5" y2="116.25" stroke="#111" stroke-width="2.4" />
<line x1="1093" y1="174.5" x2="1102" y2="174.5" stroke="#111" stroke-width="2.4" />
<line x1="1762.5" y1="174.5" x2="1753.5" y2="174.5" stroke="#111" stroke-width="2.4" />
<line x1="1093" y1="232.75" x2="1098" y2="232.75" stroke="#111" stroke-width="2.4" />
<line x1="1762.5" y1="232.75" x2="1757.5" y2="232.75" stroke="#111" stroke-width="2.4" />
<line x1="1093" y1="296.25" x2="1098" y2="296.25" stroke="#111" stroke-width="2.4" />
<line x1="1762.5" y1="296.25" x2="1757.5" y2="296.25" stroke="#111" stroke-width="2.4" />
<line x1="1093" y1="357.5" x2="1102" y2="357.5" stroke="#111" stroke-width="2.4" />
<line x1="1762.5" y1="357.5" x2="1753.5" y2="357.5" stroke="#111" stroke-width="2.4" />
<line x1="1093" y1="418.75" x2="1098" y2="418.75" stroke="#111" stroke-width="2.4" />
<line x1="1762.5" y1="418.75" x2="1757.5" y2="418.75" stroke="#111" stroke-width="2.4" />
<line x1="1093" y1="480" x2="1102" y2="480" stroke="#111" stroke-width="2.4" />
<line x1="1762.5" y1="480" x2="1753.5" y2="480" stroke="#111" stroke-width="2.4" />
<line x1="1093" y1="541.25" x2="1098" y2="541.25" stroke="#111" stroke-width="2.4" />
<line x1="1762.5" y1="541.25" x2="1757.5" y2="541.25" stroke="#111" stroke-width="2.4" />
<line x1="1093" y1="602.5" x2="1102" y2="602.5" stroke="#111" stroke-width="2.4" />
<line x1="1762.5" y1="602.5" x2="1753.5" y2="602.5" stroke="#111" stroke-width="2.4" />
<text transform="translate(1080.5,67.01) scale(1,1.128)" font-size="27.5" text-anchor="end" >150</text>
<text transform="translate(1080.5,183.51) scale(1,1.128)" font-size="27.5" text-anchor="end" >100</text>
<text transform="translate(1080.5,366.51) scale(1,1.128)" font-size="27.5" text-anchor="end" >-350</text>
<text transform="translate(1080.5,489.01) scale(1,1.128)" font-size="27.5" text-anchor="end" >-400</text>
<text transform="translate(1080.5,611.51) scale(1,1.128)" font-size="27.5" text-anchor="end" >-450</text>
<text transform="translate(1134.5,673.03) scale(1,1.12)" font-size="27.5" text-anchor="middle" >1</text>
<text transform="translate(1221.25,673.03) scale(1,1.12)" font-size="27.5" text-anchor="middle" >2</text>
<text transform="translate(1308,673.03) scale(1,1.12)" font-size="27.5" text-anchor="middle" >3</text>
<text transform="translate(1394.75,673.03) scale(1,1.12)" font-size="27.5" text-anchor="middle" >4</text>
<text transform="translate(1481.5,673.03) scale(1,1.12)" font-size="27.5" text-anchor="middle" >5</text>
<text transform="translate(1568.25,673.03) scale(1,1.12)" font-size="27.5" text-anchor="middle" >6</text>
<text transform="translate(1655,673.03) scale(1,1.12)" font-size="27.5" text-anchor="middle" >7</text>
<text transform="translate(1741.75,673.03) scale(1,1.12)" font-size="27.5" text-anchor="middle" >8</text>
<text transform="translate(1000,477) scale(1,1.07) rotate(-90)"><tspan y="0" font-size="34.5" font-style="italic">H</tspan><tspan y="14" font-size="17" font-style="italic">EB</tspan><tspan y="0" font-size="34.5"> &amp; </tspan><tspan y="0" font-size="34.5" font-style="italic">H</tspan><tspan y="12" font-size="17" font-style="italic">c</tspan><tspan y="0" font-size="34.5"> (Oe)</tspan></text>
<text transform="translate(1295,725.5) scale(1,1.02)" textLength="263" lengthAdjust="spacingAndGlyphs"><tspan y="0" font-size="35.5">Cycle number, </tspan><tspan y="0" font-size="35.5" font-style="italic" dx="1">n</tspan></text>
<polyline points="1134.5,58 1221.25,174.5 1308,202.5 1394.75,213.75 1481.5,228 1568.25,235 1655,243.75" fill="none" stroke="#111" stroke-width="2.6" stroke-linejoin="round" />
<rect x="1129.25" y="52.75" width="10.5" height="10.5" fill="#000"/>
<rect x="1216" y="169.25" width="10.5" height="10.5" fill="#000"/>
<rect x="1302.75" y="197.25" width="10.5" height="10.5" fill="#000"/>
<rect x="1389.5" y="208.5" width="10.5" height="10.5" fill="#000"/>
<rect x="1476.25" y="222.75" width="10.5" height="10.5" fill="#000"/>
<rect x="1563" y="229.75" width="10.5" height="10.5" fill="#000"/>
<rect x="1649.75" y="238.5" width="10.5" height="10.5" fill="#000"/>
<polyline points="1134.5,562.57 1138.84,551.89 1143.17,541.95 1147.51,532.67 1151.85,523.97 1156.19,515.8 1160.53,508.11 1164.86,500.84 1169.2,493.97 1173.54,487.46 1177.88,481.28 1182.21,475.4 1186.55,469.8 1190.89,464.45 1195.22,459.34 1199.56,454.45 1203.9,449.77 1208.24,445.28 1212.58,440.96 1216.91,436.82 1221.25,432.83 1225.59,428.98 1229.92,425.28 1234.26,421.7 1238.6,418.25 1242.94,414.91 1247.28,411.68 1251.61,408.56 1255.95,405.53 1260.29,402.6 1264.62,399.76 1268.96,397 1273.3,394.32 1277.64,391.71 1281.97,389.18 1286.31,386.72 1290.65,384.32 1294.99,381.99 1299.33,379.72 1303.66,377.51 1308,375.35 1312.34,373.24 1316.67,371.19 1321.01,369.18 1325.35,367.23 1329.69,365.31 1334.03,363.45 1338.36,361.62 1342.7,359.83 1347.04,358.09 1351.38,356.38 1355.71,354.7 1360.05,353.07 1364.39,351.46 1368.72,349.89 1373.06,348.35 1377.4,346.84 1381.74,345.36 1386.08,343.91 1390.41,342.48 1394.75,341.09 1399.09,339.71 1403.42,338.37 1407.76,337.05 1412.1,335.75 1416.44,334.47 1420.78,333.22 1425.11,331.99 1429.45,330.78 1433.79,329.59 1438.12,328.42 1442.46,327.27 1446.8,326.14 1451.14,325.02 1455.47,323.93 1459.81,322.85 1464.15,321.79 1468.49,320.74 1472.83,319.71 1477.16,318.7 1481.5,317.7 1485.84,316.72 1490.18,315.75 1494.51,314.8 1498.85,313.86 1503.19,312.93 1507.53,312.01 1511.86,311.11 1516.2,310.22 1520.54,309.35 1524.88,308.48 1529.21,307.63 1533.55,306.79 1537.89,305.96 1542.22,305.14 1546.56,304.33 1550.9,303.53 1555.24,302.75 1559.58,301.97 1563.91,301.2 1568.25,300.44 1572.59,299.69 1576.93,298.95 1581.26,298.22 1585.6,297.5 1589.94,296.79 1594.28,296.08 1598.61,295.39 1602.95,294.7 1607.29,294.02 1611.62,293.35 1615.96,292.68 1620.3,292.03 1624.64,291.38 1628.97,290.74 1633.31,290.1 1637.65,289.47 1641.99,288.85 1646.33,288.24 1650.66,287.63 1655,287.03 1659.34,286.43 1663.68,285.84 1668.01,285.26 1672.35,284.69 1676.69,284.12 1681.03,283.55 1685.36,282.99 1689.7,282.44 1694.04,281.89 1698.38,281.35 1702.71,280.81 1707.05,280.28 1711.39,279.76 1715.72,279.24 1720.06,278.72 1724.4,278.21 1728.74,277.7 1733.08,277.2 1737.41,276.71 1741.75,276.22" fill="none" stroke="#1414f0" stroke-width="2.8" stroke-linejoin="round" stroke-dasharray="11 6"/>
<polyline points="1134.5,617.15 1138.84,601.11 1143.17,586.14 1147.51,572.17 1151.85,559.13 1156.19,546.95 1160.53,535.56 1164.86,524.91 1169.2,514.94 1173.54,505.61 1177.88,496.86 1182.21,488.65 1186.55,480.94 1190.89,473.7 1195.22,466.89 1199.56,460.49 1203.9,454.45 1208.24,448.76 1212.58,443.4 1216.91,438.32 1221.25,433.52 1225.59,428.98 1229.92,424.68 1234.26,420.59 1238.6,416.71 1242.94,413.02 1247.28,409.51 1251.61,406.16 1255.95,402.96 1260.29,399.9 1264.62,396.98 1268.96,394.18 1273.3,391.49 1277.64,388.91 1281.97,386.43 1286.31,384.04 1290.65,381.74 1294.99,379.51 1299.33,377.37 1303.66,375.29 1308,373.28 1312.34,371.33 1316.67,369.43 1321.01,367.59 1325.35,365.81 1329.69,364.06 1334.03,362.37 1338.36,360.71 1342.7,359.09 1347.04,357.51 1351.38,355.97 1355.71,354.45 1360.05,352.97 1364.39,351.52 1368.72,350.09 1373.06,348.69 1377.4,347.32 1381.74,345.97 1386.08,344.64 1390.41,343.33 1394.75,342.04 1399.09,340.77 1403.42,339.52 1407.76,338.29 1412.1,337.07 1416.44,335.87 1420.78,334.68 1425.11,333.51 1429.45,332.36 1433.79,331.21 1438.12,330.08 1442.46,328.97 1446.8,327.86 1451.14,326.77 1455.47,325.69 1459.81,324.62 1464.15,323.56 1468.49,322.51 1472.83,321.47 1477.16,320.44 1481.5,319.42 1485.84,318.41 1490.18,317.4 1494.51,316.41 1498.85,315.43 1503.19,314.45 1507.53,313.49 1511.86,312.53 1516.2,311.58 1520.54,310.63 1524.88,309.7 1529.21,308.77 1533.55,307.85 1537.89,306.94 1542.22,306.03 1546.56,305.14 1550.9,304.24 1555.24,303.36 1559.58,302.48 1563.91,301.61 1568.25,300.75 1572.59,299.89 1576.93,299.04 1581.26,298.2 1585.6,297.36 1589.94,296.53 1594.28,295.7 1598.61,294.88 1602.95,294.07 1607.29,293.26 1611.62,292.46 1615.96,291.67 1620.3,290.88 1624.64,290.09 1628.97,289.32 1633.31,288.54 1637.65,287.78 1641.99,287.02 1646.33,286.26 1650.66,285.51 1655,284.77 1659.34,284.03 1663.68,283.29 1668.01,282.57 1672.35,281.84 1676.69,281.13 1681.03,280.41 1685.36,279.71 1689.7,279 1694.04,278.31 1698.38,277.61 1702.71,276.93 1707.05,276.24 1711.39,275.57 1715.72,274.89 1720.06,274.22 1724.4,273.56 1728.74,272.9 1733.08,272.25 1737.41,271.6 1741.75,270.96" fill="none" stroke="#8c8c14" stroke-width="2.6" stroke-linejoin="round" stroke-dasharray="7 4 2.5 4 2.5 4"/>
<polyline points="1134.5,604.95 1138.84,592.33 1143.17,580.57 1147.51,569.6 1151.85,559.31 1156.19,549.65 1160.53,540.55 1164.86,531.96 1169.2,523.84 1173.54,516.14 1177.88,508.83 1182.21,501.87 1186.55,495.25 1190.89,488.93 1195.22,482.88 1199.56,477.1 1203.9,471.56 1208.24,466.25 1212.58,461.15 1216.91,456.25 1221.25,451.53 1225.59,446.98 1229.92,442.6 1234.26,438.38 1238.6,434.29 1242.94,430.35 1247.28,426.53 1251.61,422.84 1255.95,419.26 1260.29,415.79 1264.62,412.43 1268.96,409.16 1273.3,405.99 1277.64,402.91 1281.97,399.92 1286.31,397.01 1290.65,394.18 1294.99,391.42 1299.33,388.73 1303.66,386.11 1308,383.56 1312.34,381.07 1316.67,378.64 1321.01,376.27 1325.35,373.96 1329.69,371.7 1334.03,369.49 1338.36,367.33 1342.7,365.22 1347.04,363.15 1351.38,361.13 1355.71,359.15 1360.05,357.21 1364.39,355.31 1368.72,353.46 1373.06,351.63 1377.4,349.85 1381.74,348.1 1386.08,346.38 1390.41,344.7 1394.75,343.05 1399.09,341.42 1403.42,339.83 1407.76,338.27 1412.1,336.73 1416.44,335.23 1420.78,333.74 1425.11,332.29 1429.45,330.86 1433.79,329.45 1438.12,328.07 1442.46,326.71 1446.8,325.37 1451.14,324.05 1455.47,322.76 1459.81,321.48 1464.15,320.23 1468.49,318.99 1472.83,317.77 1477.16,316.58 1481.5,315.39 1485.84,314.23 1490.18,313.09 1494.51,311.96 1498.85,310.85 1503.19,309.75 1507.53,308.67 1511.86,307.6 1516.2,306.55 1520.54,305.52 1524.88,304.49 1529.21,303.48 1533.55,302.49 1537.89,301.51 1542.22,300.54 1546.56,299.58 1550.9,298.64 1555.24,297.71 1559.58,296.79 1563.91,295.88 1568.25,294.98 1572.59,294.1 1576.93,293.22 1581.26,292.36 1585.6,291.51 1589.94,290.66 1594.28,289.83 1598.61,289.01 1602.95,288.19 1607.29,287.39 1611.62,286.6 1615.96,285.81 1620.3,285.03 1624.64,284.26 1628.97,283.51 1633.31,282.75 1637.65,282.01 1641.99,281.28 1646.33,280.55 1650.66,279.83 1655,279.12 1659.34,278.42 1663.68,277.72 1668.01,277.03 1672.35,276.35 1676.69,275.68 1681.03,275.01 1685.36,274.35 1689.7,273.7 1694.04,273.05 1698.38,272.41 1702.71,271.77 1707.05,271.15 1711.39,270.52 1715.72,269.91 1720.06,269.3 1724.4,268.69 1728.74,268.1 1733.08,267.5 1737.41,266.92 1741.75,266.33" fill="none" stroke="#148c8c" stroke-width="2.8" stroke-linejoin="round" stroke-dasharray="13 5 3 5"/>
<polyline points="1134.5,617.5 1221.25,433.75 1308,369.5 1394.75,347.5 1481.5,318.75 1568.25,297.5 1655,286.25" fill="none" stroke="#f01414" stroke-width="2.6" stroke-linejoin="round" />
<circle cx="1134.5" cy="617.5" r="5.8" fill="#f01414" stroke="none" stroke-width="0"/>
<circle cx="1221.25" cy="433.75" r="5.8" fill="#f01414" stroke="none" stroke-width="0"/>
<circle cx="1308" cy="369.5" r="5.8" fill="#f01414" stroke="none" stroke-width="0"/>
<circle cx="1394.75" cy="347.5" r="5.8" fill="#f01414" stroke="none" stroke-width="0"/>
<circle cx="1481.5" cy="318.75" r="5.8" fill="#f01414" stroke="none" stroke-width="0"/>
<circle cx="1568.25" cy="297.5" r="5.8" fill="#f01414" stroke="none" stroke-width="0"/>
<circle cx="1655" cy="286.25" r="5.8" fill="#f01414" stroke="none" stroke-width="0"/>
<line x1="1170.5" y1="356" x2="1170.5" y2="470" stroke="#1414f0" stroke-width="3" stroke-dasharray="11 11"/>
<polygon points="1170.5,488 1165,466 1176,466" fill="#1414f0"/>
<line x1="1278.4" y1="466" x2="1271.5" y2="425" stroke="#148c8c" stroke-width="2.8" stroke-dasharray="13 5 3 5"/>
<polygon points="1269,409.5 1278.93,429.11 1266.11,431.29" fill="#148c8c"/>
<line x1="1237.5" y1="586" x2="1196" y2="509" stroke="#8c8c14" stroke-width="2.6" stroke-dasharray="7 4 2.5 4 2.5 4"/>
<polygon points="1186,491 1198.89,504.52 1190.07,509.23" fill="#8c8c14"/>
<text transform="translate(1341,188.75) scale(1,1.07)"><tspan y="0" font-size="27" font-style="italic">H</tspan><tspan y="10.28" font-size="17" font-style="italic">c</tspan></text>
<text transform="translate(1376,322) scale(1,1.07)"><tspan y="0" font-size="27" font-style="italic">H</tspan><tspan y="10.28" font-size="16.5" font-style="italic">EB</tspan></text>
<text transform="translate(1112,347.8) scale(1,1.07)" textLength="186" lengthAdjust="spacingAndGlyphs"><tspan y="0" font-size="25" font-style="italic">H</tspan><tspan y="10.47" font-size="15.5" font-style="italic">EB</tspan><tspan y="-0.93" font-size="22" dx="2">∝</tspan><tspan y="0" font-size="25" font-style="italic" dx="5">n</tspan><tspan y="-13.55" font-size="14" font-style="italic" dx="1">-1/2</tspan><tspan y="0" font-size="25" dx="2">(</tspan><tspan y="0" font-size="25" font-style="italic">n</tspan><tspan y="0" font-size="25" dx="1">≥</tspan><tspan y="0" font-size="25" dx="1">2)</tspan></text>
<text transform="translate(1211.5,494.4) scale(1,1.07)" textLength="185" lengthAdjust="spacingAndGlyphs"><tspan y="0" font-size="25" font-style="italic">H</tspan><tspan y="9.53" font-size="15.5" font-style="italic">EB</tspan><tspan y="-0.93" font-size="22" dx="2">∝</tspan><tspan y="0" font-size="25" font-style="italic" dx="5">n</tspan><tspan y="-13.55" font-size="14" font-style="italic" dx="1">-1/2</tspan><tspan y="0" font-size="25" dx="2">(</tspan><tspan y="0" font-size="25" font-style="italic">n</tspan><tspan y="0" font-size="25" dx="1">≥</tspan><tspan y="0" font-size="25" dx="1">1)</tspan></text>
<text transform="translate(1148.5,608.5) scale(1,1.07)" textLength="274" lengthAdjust="spacingAndGlyphs"><tspan y="0" font-size="25" font-style="italic">H</tspan><tspan y="10.09" font-size="15.5" font-style="italic">EB</tspan><tspan y="-0.93" font-size="22" dx="3">∝</tspan><tspan y="0" font-size="24" font-style="italic" dx="6">Σ</tspan><tspan y="0" font-size="25" font-style="italic" dx="-5">A</tspan><tspan y="10.09" font-size="15.5" font-style="italic">k</tspan><tspan y="0" font-size="25">(-</tspan><tspan y="0" font-size="25" font-style="italic">n/P</tspan><tspan y="10.09" font-size="15.5" font-style="italic">k</tspan><tspan y="0" font-size="25">)</tspan><tspan y="0" font-size="25" dx="3"> (</tspan><tspan y="0" font-size="25" font-style="italic">k</tspan><tspan y="0" font-size="25">=</tspan><tspan y="0" font-size="25" font-style="italic">f,i</tspan><tspan y="0" font-size="25">)</tspan></text>
<rect x="1570" y="59.25" width="178" height="142.0" fill="#fff"/>
<clipPath id="cib"><rect x="1570" y="59.25" width="178" height="142.0"/></clipPath><g clip-path="url(#cib)">
<polyline points="1586.28,183.43 1586.65,170.53 1587.02,161 1587.4,153.6 1587.77,147.63 1588.14,142.69 1588.51,138.51 1588.88,134.91 1589.25,131.77 1589.62,129.01 1589.99,126.54 1590.36,124.32 1590.73,122.32 1591.1,120.5 1591.47,118.83 1591.84,117.29 1592.21,115.87 1592.59,114.55 1592.96,113.33 1593.33,112.18 1593.7,111.11 1595.18,107.41 1596.66,104.42 1598.15,101.95 1599.63,99.86 1601.11,98.06 1602.6,96.49 1604.08,95.11 1605.56,93.88 1607.04,92.77 1608.53,91.77 1610.01,90.85 1611.49,90.02 1612.98,89.25 1614.46,88.54 1615.94,87.88 1617.43,87.27 1618.91,86.7 1620.39,86.16 1621.88,85.65 1623.36,85.18 1624.84,84.73 1626.32,84.31 1627.81,83.91 1629.29,83.52 1630.77,83.16 1632.26,82.82 1633.74,82.49 1635.22,82.17 1636.7,81.87 1638.19,81.58 1639.67,81.3 1641.15,81.04 1642.64,80.78 1644.12,80.54 1645.6,80.3 1647.09,80.07 1648.57,79.85 1650.05,79.64 1651.53,79.43 1653.02,79.23 1654.5,79.04 1655.98,78.85 1657.47,78.67 1658.95,78.5 1660.43,78.32 1661.92,78.16 1663.4,78 1664.88,77.84 1666.37,77.69 1667.85,77.54 1669.33,77.4 1670.81,77.26 1672.3,77.12 1673.78,76.99 1675.26,76.86 1676.75,76.73 1678.23,76.61 1679.71,76.49 1681.19,76.37 1682.68,76.25 1684.16,76.14 1685.64,76.03 1687.13,75.92 1688.61,75.82 1690.09,75.72 1691.58,75.61 1693.06,75.52 1694.54,75.42 1696.02,75.32 1697.51,75.23 1698.99,75.14 1700.47,75.05 1701.96,74.96 1703.44,74.88 1704.92,74.79 1706.41,74.71 1707.89,74.63 1709.37,74.55 1710.86,74.47 1712.34,74.39 1713.82,74.31 1715.3,74.24 1716.79,74.17 1718.27,74.09 1719.75,74.02 1721.24,73.95 1722.72,73.88 1724.2,73.82 1725.68,73.75 1727.17,73.68 1728.65,73.62 1730.13,73.56 1731.62,73.49 1733.1,73.43" fill="none" stroke="#1414f0" stroke-width="2.4" stroke-linejoin="round" stroke-dasharray="8 5"/>
<polyline points="1586.28,198.49 1586.65,179.12 1587.02,165.3 1587.4,155.27 1587.77,147.83 1588.14,142.17 1588.51,137.74 1588.88,134.17 1589.25,131.2 1589.62,128.66 1589.99,126.43 1590.36,124.42 1590.73,122.58 1591.1,120.88 1591.47,119.29 1591.84,117.78 1592.21,116.34 1592.59,114.97 1592.96,113.66 1593.33,112.4 1593.7,111.19 1595.18,106.78 1596.66,102.97 1598.15,99.67 1599.63,96.81 1601.11,94.33 1602.6,92.18 1604.08,90.31 1605.56,88.7 1607.04,87.3 1608.53,86.08 1610.01,85.03 1611.49,84.12 1612.98,83.33 1614.46,82.64 1615.94,82.05 1617.43,81.53 1618.91,81.09 1620.39,80.7 1621.88,80.36 1623.36,80.07 1624.84,79.82 1626.32,79.6 1627.81,79.41 1629.29,79.25 1630.77,79.11 1632.26,78.98 1633.74,78.88 1635.22,78.78 1636.7,78.7 1638.19,78.63 1639.67,78.57 1641.15,78.52 1642.64,78.47 1644.12,78.43 1645.6,78.4 1647.09,78.37 1648.57,78.35 1650.05,78.32 1651.53,78.3 1653.02,78.29 1654.5,78.27 1655.98,78.26 1657.47,78.25 1658.95,78.24 1660.43,78.23 1661.92,78.22 1663.4,78.22 1664.88,78.21 1666.37,78.21 1667.85,78.2 1669.33,78.2 1670.81,78.2 1672.3,78.19 1673.78,78.19 1675.26,78.19 1676.75,78.19 1678.23,78.19 1679.71,78.19 1681.19,78.19 1682.68,78.18 1684.16,78.18 1685.64,78.18 1687.13,78.18 1688.61,78.18 1690.09,78.18 1691.58,78.18 1693.06,78.18 1694.54,78.18 1696.02,78.18 1697.51,78.18 1698.99,78.18 1700.47,78.18 1701.96,78.18 1703.44,78.18 1704.92,78.18 1706.41,78.18 1707.89,78.18 1709.37,78.18 1710.86,78.18 1712.34,78.18 1713.82,78.18 1715.3,78.18 1716.79,78.18 1718.27,78.18 1719.75,78.18 1721.24,78.18 1722.72,78.18 1724.2,78.18 1725.68,78.18 1727.17,78.18 1728.65,78.18 1730.13,78.18 1731.62,78.18 1733.1,78.18" fill="none" stroke="#8c8c14" stroke-width="2.2" stroke-linejoin="round" stroke-dasharray="5 3 2 3 2 3"/>
<polyline points="1586.28,195.13 1586.65,179.87 1587.02,168.6 1587.4,159.85 1587.77,152.79 1588.14,146.95 1588.51,142.01 1588.88,137.75 1589.25,134.04 1589.62,130.77 1589.99,127.85 1590.36,125.23 1590.73,122.86 1591.1,120.7 1591.47,118.73 1591.84,116.91 1592.21,115.23 1592.59,113.67 1592.96,112.22 1593.33,110.87 1593.7,109.6 1595.18,105.22 1596.66,101.7 1598.15,98.77 1599.63,96.3 1601.11,94.17 1602.6,92.32 1604.08,90.68 1605.56,89.22 1607.04,87.91 1608.53,86.73 1610.01,85.65 1611.49,84.66 1612.98,83.75 1614.46,82.91 1615.94,82.14 1617.43,81.41 1618.91,80.73 1620.39,80.1 1621.88,79.5 1623.36,78.94 1624.84,78.41 1626.32,77.91 1627.81,77.44 1629.29,76.98 1630.77,76.56 1632.26,76.15 1633.74,75.76 1635.22,75.38 1636.7,75.03 1638.19,74.69 1639.67,74.36 1641.15,74.04 1642.64,73.74 1644.12,73.45 1645.6,73.17 1647.09,72.9 1648.57,72.64 1650.05,72.39 1651.53,72.14 1653.02,71.91 1654.5,71.68 1655.98,71.46 1657.47,71.24 1658.95,71.04 1660.43,70.84 1661.92,70.64 1663.4,70.45 1664.88,70.27 1666.37,70.09 1667.85,69.91 1669.33,69.74 1670.81,69.57 1672.3,69.41 1673.78,69.26 1675.26,69.1 1676.75,68.95 1678.23,68.81 1679.71,68.66 1681.19,68.52 1682.68,68.39 1684.16,68.25 1685.64,68.12 1687.13,68 1688.61,67.87 1690.09,67.75 1691.58,67.63 1693.06,67.51 1694.54,67.4 1696.02,67.29 1697.51,67.18 1698.99,67.07 1700.47,66.96 1701.96,66.86 1703.44,66.76 1704.92,66.66 1706.41,66.56 1707.89,66.46 1709.37,66.37 1710.86,66.27 1712.34,66.18 1713.82,66.09 1715.3,66 1716.79,65.92 1718.27,65.83 1719.75,65.75 1721.24,65.67 1722.72,65.58 1724.2,65.5 1725.68,65.43 1727.17,65.35 1728.65,65.27 1730.13,65.2 1731.62,65.12 1733.1,65.05" fill="none" stroke="#148c8c" stroke-width="2.4" stroke-linejoin="round" />
</g>
<circle cx="1586.28" cy="198.51" r="4.8" fill="#f01414" stroke="none" stroke-width="0"/>
<circle cx="1587.77" cy="147.81" r="4.8" fill="#f01414" stroke="none" stroke-width="0"/>
<circle cx="1589.25" cy="130.23" r="4.8" fill="#f01414" stroke="none" stroke-width="0"/>
<circle cx="1590.73" cy="124.15" r="4.8" fill="#f01414" stroke="none" stroke-width="0"/>
<circle cx="1592.21" cy="116.03" r="4.8" fill="#f01414" stroke="none" stroke-width="0"/>
<circle cx="1593.7" cy="110.63" r="4.8" fill="#f01414" stroke="none" stroke-width="0"/>
<circle cx="1595.18" cy="107.25" r="4.8" fill="#f01414" stroke="none" stroke-width="0"/>
<rect x="1570" y="59.25" width="178" height="142" fill="none" stroke="#2a2a2a" stroke-width="2.0" />
<line x1="1584.8" y1="201.25" x2="1584.8" y2="197.25" stroke="#2a2a2a" stroke-width="1.8" />
<line x1="1584.8" y1="59.25" x2="1584.8" y2="63.25" stroke="#2a2a2a" stroke-width="1.8" />
<line x1="1599.63" y1="201.25" x2="1599.63" y2="198.75" stroke="#2a2a2a" stroke-width="1.8" />
<line x1="1599.63" y1="59.25" x2="1599.63" y2="61.75" stroke="#2a2a2a" stroke-width="1.8" />
<line x1="1614.46" y1="201.25" x2="1614.46" y2="197.25" stroke="#2a2a2a" stroke-width="1.8" />
<line x1="1614.46" y1="59.25" x2="1614.46" y2="63.25" stroke="#2a2a2a" stroke-width="1.8" />
<line x1="1629.29" y1="201.25" x2="1629.29" y2="198.75" stroke="#2a2a2a" stroke-width="1.8" />
<line x1="1629.29" y1="59.25" x2="1629.29" y2="61.75" stroke="#2a2a2a" stroke-width="1.8" />
<line x1="1644.12" y1="201.25" x2="1644.12" y2="197.25" stroke="#2a2a2a" stroke-width="1.8" />
<line x1="1644.12" y1="59.25" x2="1644.12" y2="63.25" stroke="#2a2a2a" stroke-width="1.8" />
<line x1="1658.95" y1="201.25" x2="1658.95" y2="198.75" stroke="#2a2a2a" stroke-width="1.8" />
<line x1="1658.95" y1="59.25" x2="1658.95" y2="61.75" stroke="#2a2a2a" stroke-width="1.8" />
<line x1="1673.78" y1="201.25" x2="1673.78" y2="197.25" stroke="#2a2a2a" stroke-width="1.8" />
<line x1="1673.78" y1="59.25" x2="1673.78" y2="63.25" stroke="#2a2a2a" stroke-width="1.8" />
<line x1="1688.61" y1="201.25" x2="1688.61" y2="198.75" stroke="#2a2a2a" stroke-width="1.8" />
<line x1="1688.61" y1="59.25" x2="1688.61" y2="61.75" stroke="#2a2a2a" stroke-width="1.8" />
<line x1="1703.44" y1="201.25" x2="1703.44" y2="197.25" stroke="#2a2a2a" stroke-width="1.8" />
<line x1="1703.44" y1="59.25" x2="1703.44" y2="63.25" stroke="#2a2a2a" stroke-width="1.8" />
<line x1="1718.27" y1="201.25" x2="1718.27" y2="198.75" stroke="#2a2a2a" stroke-width="1.8" />
<line x1="1718.27" y1="59.25" x2="1718.27" y2="61.75" stroke="#2a2a2a" stroke-width="1.8" />
<line x1="1733.1" y1="201.25" x2="1733.1" y2="197.25" stroke="#2a2a2a" stroke-width="1.8" />
<line x1="1733.1" y1="59.25" x2="1733.1" y2="63.25" stroke="#2a2a2a" stroke-width="1.8" />
<line x1="1570" y1="194.45" x2="1574" y2="194.45" stroke="#2a2a2a" stroke-width="1.8" />
<line x1="1748" y1="194.45" x2="1744" y2="194.45" stroke="#2a2a2a" stroke-width="1.8" />
<line x1="1570" y1="177.55" x2="1572.5" y2="177.55" stroke="#2a2a2a" stroke-width="1.8" />
<line x1="1748" y1="177.55" x2="1745.5" y2="177.55" stroke="#2a2a2a" stroke-width="1.8" />
<line x1="1570" y1="160.65" x2="1574" y2="160.65" stroke="#2a2a2a" stroke-width="1.8" />
<line x1="1748" y1="160.65" x2="1744" y2="160.65" stroke="#2a2a2a" stroke-width="1.8" />
<line x1="1570" y1="143.75" x2="1572.5" y2="143.75" stroke="#2a2a2a" stroke-width="1.8" />
<line x1="1748" y1="143.75" x2="1745.5" y2="143.75" stroke="#2a2a2a" stroke-width="1.8" />
<line x1="1570" y1="126.85" x2="1574" y2="126.85" stroke="#2a2a2a" stroke-width="1.8" />
<line x1="1748" y1="126.85" x2="1744" y2="126.85" stroke="#2a2a2a" stroke-width="1.8" />
<line x1="1570" y1="109.95" x2="1572.5" y2="109.95" stroke="#2a2a2a" stroke-width="1.8" />
<line x1="1748" y1="109.95" x2="1745.5" y2="109.95" stroke="#2a2a2a" stroke-width="1.8" />
<line x1="1570" y1="93.05" x2="1574" y2="93.05" stroke="#2a2a2a" stroke-width="1.8" />
<line x1="1748" y1="93.05" x2="1744" y2="93.05" stroke="#2a2a2a" stroke-width="1.8" />
<line x1="1570" y1="76.15" x2="1572.5" y2="76.15" stroke="#2a2a2a" stroke-width="1.8" />
<line x1="1748" y1="76.15" x2="1745.5" y2="76.15" stroke="#2a2a2a" stroke-width="1.8" />
<line x1="1570" y1="59.25" x2="1574" y2="59.25" stroke="#2a2a2a" stroke-width="1.8" />
<line x1="1748" y1="59.25" x2="1744" y2="59.25" stroke="#2a2a2a" stroke-width="1.8" />
<text transform="translate(1568,64.75) scale(1,1.07)" font-size="15.5" text-anchor="end" fill="#222" >-250</text>
<text transform="translate(1568,98.55) scale(1,1.07)" font-size="15.5" text-anchor="end" fill="#222" >-300</text>
<text transform="translate(1568,132.35) scale(1,1.07)" font-size="15.5" text-anchor="end" fill="#222" >-350</text>
<text transform="translate(1568,166.15) scale(1,1.07)" font-size="15.5" text-anchor="end" fill="#222" >-400</text>
<text transform="translate(1568,199.95) scale(1,1.07)" font-size="15.5" text-anchor="end" fill="#222" >-450</text>
<text transform="translate(1584.8,216.5) scale(1,1.07)" font-size="15.5" text-anchor="middle" fill="#222" >0</text>
<text transform="translate(1614.46,216.5) scale(1,1.07)" font-size="15.5" text-anchor="middle" fill="#222" >20</text>
<text transform="translate(1644.12,216.5) scale(1,1.07)" font-size="15.5" text-anchor="middle" fill="#222" >40</text>
<text transform="translate(1673.78,216.5) scale(1,1.07)" font-size="15.5" text-anchor="middle" fill="#222" >60</text>
<text transform="translate(1703.44,216.5) scale(1,1.07)" font-size="15.5" text-anchor="middle" fill="#222" >80</text>
<text transform="translate(1733.1,216.5) scale(1,1.07)" font-size="15.5" text-anchor="middle" fill="#222" >100</text>
<text transform="translate(1526.5,166) scale(1,1.07) rotate(-90)"><tspan y="0" font-size="18.5" font-style="italic">H</tspan><tspan y="6.5" font-size="12" font-style="italic">EB</tspan><tspan y="0" font-size="18.5"> (Oe)</tspan></text>
<text transform="translate(1589,229) scale(1,1.02)" textLength="141" lengthAdjust="spacingAndGlyphs"><tspan y="0" font-size="19.5">Cycle number, </tspan><tspan y="0" font-size="19.5" font-style="italic">n</tspan></text>
<rect x="1474.5" y="340" width="267.5" height="235.75" fill="#fff"/>
<defs>
<marker id="mB" markerWidth="10" markerHeight="10" refX="5" refY="5" markerUnits="userSpaceOnUse"><g fill="#fff" stroke="#1414f0" stroke-width="1.3" stroke-linejoin="round"><polygon points="1.92,5 7.24,2.2 7.24,7.8"/></g></marker>
<marker id="mG" markerWidth="10" markerHeight="10" refX="5" refY="5" markerUnits="userSpaceOnUse"><g fill="#fff" stroke="#148c14" stroke-width="1.3" stroke-linejoin="round"><polygon points="5,1.64 5.91,3.75 8.2,3.96 6.46,5.48 6.97,7.72 5,6.54 3.03,7.72 3.54,5.48 1.8,3.96 4.09,3.75"/></g></marker>
<marker id="mM" markerWidth="10" markerHeight="10" refX="5" refY="5" markerUnits="userSpaceOnUse"><g fill="#fff" stroke="#f014f0" stroke-width="1.3" stroke-linejoin="round"><polygon points="5,1.5 7.8,5 5,8.5 2.2,5"/></g></marker>
<marker id="mK" markerWidth="10" markerHeight="10" refX="5" refY="5" markerUnits="userSpaceOnUse"><g fill="#fff" stroke="#111" stroke-width="1.3" stroke-linejoin="round"><polygon points="5,8.22 7.8,3.04 2.2,3.04"/></g></marker>
<marker id="mR" markerWidth="10" markerHeight="10" refX="5" refY="5" markerUnits="userSpaceOnUse"><g fill="#fff" stroke="#f01414" stroke-width="1.3" stroke-linejoin="round"><polygon points="5,1.78 7.8,6.96 2.2,6.96"/></g></marker>
<marker id="mT" markerWidth="10" markerHeight="10" refX="5" refY="5" markerUnits="userSpaceOnUse"><g fill="#fff" stroke="#148c8c" stroke-width="1.3" stroke-linejoin="round"><polygon points="7.8,5 6.4,7.42 3.6,7.42 2.2,5 3.6,2.58 6.4,2.58"/></g></marker>
<marker id="mO" markerWidth="10" markerHeight="10" refX="5" refY="5" markerUnits="userSpaceOnUse"><g fill="#fff" stroke="#f08228" stroke-width="1.3" stroke-linejoin="round"><circle cx="5" cy="5" r="2.8"/></g></marker>
</defs>
<clipPath id="cib2"><rect x="1474.5" y="340" width="267.5" height="235.75"/></clipPath><g clip-path="url(#cib2)">
<polyline points="1482.5,575.75 1485.2,572.73 1487.9,569.7 1490.6,566.68 1493.3,563.65 1496,560.63 1498.7,557.61 1501.4,554.58 1504.1,551.56 1506.8,548.53 1509.5,545.51 1512.2,542.49 1514.9,539.46 1517.6,536.44 1520.3,533.41 1523,530.39 1525.7,527.37 1528.4,524.34 1531.1,521.32 1533.8,518.29 1536.5,515.27 1539.2,512.25 1541.9,509.22 1544.6,506.2 1547.3,503.17 1550,500.15 1552.7,497.13 1555.4,494.1 1558.1,491.08 1560.8,488.05 1563.5,485.03 1566.2,482.01 1568.9,478.98 1571.6,475.96 1574.3,472.93 1577,469.91 1579.7,466.89 1582.4,463.86 1585.1,460.84 1587.8,457.81 1590.5,454.79 1593.2,451.77 1595.9,448.74 1598.6,445.72 1601.3,442.69 1604,439.67 1606.7,436.65 1609.4,433.62 1612.1,430.6 1614.8,427.57 1617.5,424.55 1620.2,421.53 1622.9,418.5 1625.6,415.48 1628.3,412.45 1631,409.43 1633.7,406.41 1636.4,403.38 1639.1,400.36 1641.8,397.33 1644.5,394.31 1647.2,391.29 1649.9,388.26 1652.6,385.24 1655.3,382.21 1658,379.19 1660.7,376.17 1663.4,373.14 1666.1,370.12 1668.8,367.09 1671.5,364.07 1674.2,361.05 1676.9,358.02 1679.6,355 1682.3,351.97 1685,348.95 1687.7,345.93 1690.4,342.9 1693.1,339.88" fill="none" stroke="#1414f0" stroke-width="2.5" marker-mid="url(#mB)" marker-start="url(#mB)"/>
<polyline points="1535,575.75 1537.7,572.73 1540.4,569.7 1543.1,566.68 1545.8,563.65 1548.5,560.63 1551.2,557.61 1553.9,554.58 1556.6,551.56 1559.3,548.53 1562,545.51 1564.7,542.49 1567.4,539.46 1570.1,536.44 1572.8,533.41 1575.5,530.39 1578.2,527.37 1580.9,524.34 1583.6,521.32 1586.3,518.29 1589,515.27 1591.7,512.25 1594.4,509.22 1597.1,506.2 1599.8,503.17 1602.5,500.15 1605.2,497.13 1607.9,494.1 1610.6,491.08 1613.3,488.05 1616,485.03 1618.7,482.01 1621.4,478.98 1624.1,475.96 1626.8,472.93 1629.5,469.91 1632.2,466.89 1634.9,463.86 1637.6,460.84 1640.3,457.81 1643,454.79 1645.7,451.77 1648.4,448.74 1651.1,445.72 1653.8,442.69 1656.5,439.67 1659.2,436.65 1661.9,433.62 1664.6,430.6 1667.3,427.57 1670,424.55 1672.7,421.53 1675.4,418.5 1678.1,415.48 1680.8,412.45 1683.5,409.43 1686.2,406.41 1688.9,403.38 1691.6,400.36 1694.3,397.33 1697,394.31 1699.7,391.29 1702.4,388.26 1705.1,385.24 1707.8,382.21 1710.5,379.19 1713.2,376.17 1715.9,373.14 1718.6,370.12 1721.3,367.09 1724,364.07 1726.7,361.05 1729.4,358.02 1732.1,355 1734.8,351.97 1737.5,348.95 1740.2,345.93 1742.9,342.9" fill="none" stroke="#148c14" stroke-width="2.5" marker-mid="url(#mG)" marker-start="url(#mG)"/>
<polyline points="1551,575.75 1553.7,572.73 1556.4,569.7 1559.1,566.68 1561.8,563.65 1564.5,560.63 1567.2,557.61 1569.9,554.58 1572.6,551.56 1575.3,548.53 1578,545.51 1580.7,542.49 1583.4,539.46 1586.1,536.44 1588.8,533.41 1591.5,530.39 1594.2,527.37 1596.9,524.34 1599.6,521.32 1602.3,518.29 1605,515.27 1607.7,512.25 1610.4,509.22 1613.1,506.2 1615.8,503.17 1618.5,500.15 1621.2,497.13 1623.9,494.1 1626.6,491.08 1629.3,488.05 1632,485.03 1634.7,482.01 1637.4,478.98 1640.1,475.96 1642.8,472.93 1645.5,469.91 1648.2,466.89 1650.9,463.86 1653.6,460.84 1656.3,457.81 1659,454.79 1661.7,451.77 1664.4,448.74 1667.1,445.72 1669.8,442.69 1672.5,439.67 1675.2,436.65 1677.9,433.62 1680.6,430.6 1683.3,427.57 1686,424.55 1688.7,421.53 1691.4,418.5 1694.1,415.48 1696.8,412.45 1699.5,409.43 1702.2,406.41 1704.9,403.38 1707.6,400.36 1710.3,397.33 1713,394.31 1715.7,391.29 1718.4,388.26 1721.1,385.24 1723.8,382.21 1726.5,379.19 1729.2,376.17 1731.9,373.14 1734.6,370.12 1737.3,367.09 1740,364.07 1742.7,361.05" fill="none" stroke="#f014f0" stroke-width="2.5" marker-mid="url(#mM)" marker-start="url(#mM)"/>
<polyline points="1557,575.75 1559.7,572.73 1562.4,569.7 1565.1,566.68 1567.8,563.65 1570.5,560.63 1573.2,557.61 1575.9,554.58 1578.6,551.56 1581.3,548.53 1584,545.51 1586.7,542.49 1589.4,539.46 1592.1,536.44 1594.8,533.41 1597.5,530.39 1600.2,527.37 1602.9,524.34 1605.6,521.32 1608.3,518.29 1611,515.27 1613.7,512.25 1616.4,509.22 1619.1,506.2 1621.8,503.17 1624.5,500.15 1627.2,497.13 1629.9,494.1 1632.6,491.08 1635.3,488.05 1638,485.03 1640.7,482.01 1643.4,478.98 1646.1,475.96 1648.8,472.93 1651.5,469.91 1654.2,466.89 1656.9,463.86 1659.6,460.84 1662.3,457.81 1665,454.79 1667.7,451.77 1670.4,448.74 1673.1,445.72 1675.8,442.69 1678.5,439.67 1681.2,436.65 1683.9,433.62 1686.6,430.6 1689.3,427.57 1692,424.55 1694.7,421.53 1697.4,418.5 1700.1,415.48 1702.8,412.45 1705.5,409.43 1708.2,406.41 1710.9,403.38 1713.6,400.36 1716.3,397.33 1719,394.31 1721.7,391.29 1724.4,388.26 1727.1,385.24 1729.8,382.21 1732.5,379.19 1735.2,376.17 1737.9,373.14 1740.6,370.12 1743.3,367.09" fill="none" stroke="#111" stroke-width="2.5" marker-mid="url(#mK)" marker-start="url(#mK)"/>
<polyline points="1562,575.75 1564.7,572.73 1567.4,569.7 1570.1,566.68 1572.8,563.65 1575.5,560.63 1578.2,557.61 1580.9,554.58 1583.6,551.56 1586.3,548.53 1589,545.51 1591.7,542.49 1594.4,539.46 1597.1,536.44 1599.8,533.41 1602.5,530.39 1605.2,527.37 1607.9,524.34 1610.6,521.32 1613.3,518.29 1616,515.27 1618.7,512.25 1621.4,509.22 1624.1,506.2 1626.8,503.17 1629.5,500.15 1632.2,497.13 1634.9,494.1 1637.6,491.08 1640.3,488.05 1643,485.03 1645.7,482.01 1648.4,478.98 1651.1,475.96 1653.8,472.93 1656.5,469.91 1659.2,466.89 1661.9,463.86 1664.6,460.84 1667.3,457.81 1670,454.79 1672.7,451.77 1675.4,448.74 1678.1,445.72 1680.8,442.69 1683.5,439.67 1686.2,436.65 1688.9,433.62 1691.6,430.6 1694.3,427.57 1697,424.55 1699.7,421.53 1702.4,418.5 1705.1,415.48 1707.8,412.45 1710.5,409.43 1713.2,406.41 1715.9,403.38 1718.6,400.36 1721.3,397.33 1724,394.31 1726.7,391.29 1729.4,388.26 1732.1,385.24 1734.8,382.21 1737.5,379.19 1740.2,376.17 1742.9,373.14" fill="none" stroke="#f01414" stroke-width="2.5" marker-mid="url(#mR)" marker-start="url(#mR)"/>
<polyline points="1568,575.75 1570.7,572.73 1573.4,569.7 1576.1,566.68 1578.8,563.65 1581.5,560.63 1584.2,557.61 1586.9,554.58 1589.6,551.56 1592.3,548.53 1595,545.51 1597.7,542.49 1600.4,539.46 1603.1,536.44 1605.8,533.41 1608.5,530.39 1611.2,527.37 1613.9,524.34 1616.6,521.32 1619.3,518.29 1622,515.27 1624.7,512.25 1627.4,509.22 1630.1,506.2 1632.8,503.17 1635.5,500.15 1638.2,497.13 1640.9,494.1 1643.6,491.08 1646.3,488.05 1649,485.03 1651.7,482.01 1654.4,478.98 1657.1,475.96 1659.8,472.93 1662.5,469.91 1665.2,466.89 1667.9,463.86 1670.6,460.84 1673.3,457.81 1676,454.79 1678.7,451.77 1681.4,448.74 1684.1,445.72 1686.8,442.69 1689.5,439.67 1692.2,436.65 1694.9,433.62 1697.6,430.6 1700.3,427.57 1703,424.55 1705.7,421.53 1708.4,418.5 1711.1,415.48 1713.8,412.45 1716.5,409.43 1719.2,406.41 1721.9,403.38 1724.6,400.36 1727.3,397.33 1730,394.31 1732.7,391.29 1735.4,388.26 1738.1,385.24 1740.8,382.21 1743.5,379.19" fill="none" stroke="#148c8c" stroke-width="2.5" marker-mid="url(#mT)" marker-start="url(#mT)"/>
<polyline points="1575,575.75 1577.7,572.73 1580.4,569.7 1583.1,566.68 1585.8,563.65 1588.5,560.63 1591.2,557.61 1593.9,554.58 1596.6,551.56 1599.3,548.53 1602,545.51 1604.7,542.49 1607.4,539.46 1610.1,536.44 1612.8,533.41 1615.5,530.39 1618.2,527.37 1620.9,524.34 1623.6,521.32 1626.3,518.29 1629,515.27 1631.7,512.25 1634.4,509.22 1637.1,506.2 1639.8,503.17 1642.5,500.15 1645.2,497.13 1647.9,494.1 1650.6,491.08 1653.3,488.05 1656,485.03 1658.7,482.01 1661.4,478.98 1664.1,475.96 1666.8,472.93 1669.5,469.91 1672.2,466.89 1674.9,463.86 1677.6,460.84 1680.3,457.81 1683,454.79 1685.7,451.77 1688.4,448.74 1691.1,445.72 1693.8,442.69 1696.5,439.67 1699.2,436.65 1701.9,433.62 1704.6,430.6 1707.3,427.57 1710,424.55 1712.7,421.53 1715.4,418.5 1718.1,415.48 1720.8,412.45 1723.5,409.43 1726.2,406.41 1728.9,403.38 1731.6,400.36 1734.3,397.33 1737,394.31 1739.7,391.29 1742.4,388.26" fill="none" stroke="#f08228" stroke-width="2.5" marker-mid="url(#mO)" marker-start="url(#mO)"/>
<polyline points="1613.75,575.75 1616.45,572.73 1619.15,569.7 1621.85,566.68 1624.55,563.65 1627.25,560.63 1629.95,557.61 1632.65,554.58 1635.35,551.56 1638.05,548.53 1640.75,545.51 1643.45,542.49 1646.15,539.46 1648.85,536.44 1651.55,533.41 1654.25,530.39 1656.95,527.37 1659.65,524.34 1662.35,521.32 1665.05,518.29 1667.75,515.27 1670.45,512.25 1673.15,509.22 1675.85,506.2 1678.55,503.17 1681.25,500.15 1683.95,497.13 1686.65,494.1 1689.35,491.08 1692.05,488.05 1694.75,485.03 1697.45,482.01 1700.15,478.98 1702.85,475.96 1705.55,472.93 1708.25,469.91 1710.95,466.89 1713.65,463.86 1716.35,460.84 1719.05,457.81 1721.75,454.79 1724.45,451.77 1727.15,448.74 1729.85,445.72 1732.55,442.69 1735.25,439.67 1737.95,436.65 1740.65,433.62 1743.35,430.6" fill="none" stroke="#1414f0" stroke-width="2.5" marker-mid="url(#mB)" marker-start="url(#mB)"/>
<polyline points="1621.25,575.75 1623.95,572.73 1626.65,569.7 1629.35,566.68 1632.05,563.65 1634.75,560.63 1637.45,557.61 1640.15,554.58 1642.85,551.56 1645.55,548.53 1648.25,545.51 1650.95,542.49 1653.65,539.46 1656.35,536.44 1659.05,533.41 1661.75,530.39 1664.45,527.37 1667.15,524.34 1669.85,521.32 1672.55,518.29 1675.25,515.27 1677.95,512.25 1680.65,509.22 1683.35,506.2 1686.05,503.17 1688.75,500.15 1691.45,497.13 1694.15,494.1 1696.85,491.08 1699.55,488.05 1702.25,485.03 1704.95,482.01 1707.65,478.98 1710.35,475.96 1713.05,472.93 1715.75,469.91 1718.45,466.89 1721.15,463.86 1723.85,460.84 1726.55,457.81 1729.25,454.79 1731.95,451.77 1734.65,448.74 1737.35,445.72 1740.05,442.69 1742.75,439.67" fill="none" stroke="#148c14" stroke-width="2.5" marker-mid="url(#mG)" marker-start="url(#mG)"/>
<polyline points="1624.5,575.75 1627.2,572.73 1629.9,569.7 1632.6,566.68 1635.3,563.65 1638,560.63 1640.7,557.61 1643.4,554.58 1646.1,551.56 1648.8,548.53 1651.5,545.51 1654.2,542.49 1656.9,539.46 1659.6,536.44 1662.3,533.41 1665,530.39 1667.7,527.37 1670.4,524.34 1673.1,521.32 1675.8,518.29 1678.5,515.27 1681.2,512.25 1683.9,509.22 1686.6,506.2 1689.3,503.17 1692,500.15 1694.7,497.13 1697.4,494.1 1700.1,491.08 1702.8,488.05 1705.5,485.03 1708.2,482.01 1710.9,478.98 1713.6,475.96 1716.3,472.93 1719,469.91 1721.7,466.89 1724.4,463.86 1727.1,460.84 1729.8,457.81 1732.5,454.79 1735.2,451.77 1737.9,448.74 1740.6,445.72 1743.3,442.69" fill="none" stroke="#f014f0" stroke-width="2.5" marker-mid="url(#mM)" marker-start="url(#mM)"/>
<polyline points="1626.5,575.75 1629.2,572.73 1631.9,569.7 1634.6,566.68 1637.3,563.65 1640,560.63 1642.7,557.61 1645.4,554.58 1648.1,551.56 1650.8,548.53 1653.5,545.51 1656.2,542.49 1658.9,539.46 1661.6,536.44 1664.3,533.41 1667,530.39 1669.7,527.37 1672.4,524.34 1675.1,521.32 1677.8,518.29 1680.5,515.27 1683.2,512.25 1685.9,509.22 1688.6,506.2 1691.3,503.17 1694,500.15 1696.7,497.13 1699.4,494.1 1702.1,491.08 1704.8,488.05 1707.5,485.03 1710.2,482.01 1712.9,478.98 1715.6,475.96 1718.3,472.93 1721,469.91 1723.7,466.89 1726.4,463.86 1729.1,460.84 1731.8,457.81 1734.5,454.79 1737.2,451.77 1739.9,448.74 1742.6,445.72" fill="none" stroke="#111" stroke-width="2.5" marker-mid="url(#mK)" marker-start="url(#mK)"/>
<polyline points="1628.5,575.75 1631.2,572.73 1633.9,569.7 1636.6,566.68 1639.3,563.65 1642,560.63 1644.7,557.61 1647.4,554.58 1650.1,551.56 1652.8,548.53 1655.5,545.51 1658.2,542.49 1660.9,539.46 1663.6,536.44 1666.3,533.41 1669,530.39 1671.7,527.37 1674.4,524.34 1677.1,521.32 1679.8,518.29 1682.5,515.27 1685.2,512.25 1687.9,509.22 1690.6,506.2 1693.3,503.17 1696,500.15 1698.7,497.13 1701.4,494.1 1704.1,491.08 1706.8,488.05 1709.5,485.03 1712.2,482.01 1714.9,478.98 1717.6,475.96 1720.3,472.93 1723,469.91 1725.7,466.89 1728.4,463.86 1731.1,460.84 1733.8,457.81 1736.5,454.79 1739.2,451.77 1741.9,448.74" fill="none" stroke="#f01414" stroke-width="2.5" marker-mid="url(#mR)" marker-start="url(#mR)"/>
<polyline points="1631,575.75 1633.7,572.73 1636.4,569.7 1639.1,566.68 1641.8,563.65 1644.5,560.63 1647.2,557.61 1649.9,554.58 1652.6,551.56 1655.3,548.53 1658,545.51 1660.7,542.49 1663.4,539.46 1666.1,536.44 1668.8,533.41 1671.5,530.39 1674.2,527.37 1676.9,524.34 1679.6,521.32 1682.3,518.29 1685,515.27 1687.7,512.25 1690.4,509.22 1693.1,506.2 1695.8,503.17 1698.5,500.15 1701.2,497.13 1703.9,494.1 1706.6,491.08 1709.3,488.05 1712,485.03 1714.7,482.01 1717.4,478.98 1720.1,475.96 1722.8,472.93 1725.5,469.91 1728.2,466.89 1730.9,463.86 1733.6,460.84 1736.3,457.81 1739,454.79 1741.7,451.77" fill="none" stroke="#148c8c" stroke-width="2.5" marker-mid="url(#mT)" marker-start="url(#mT)"/>
<polyline points="1634,575.75 1636.7,572.73 1639.4,569.7 1642.1,566.68 1644.8,563.65 1647.5,560.63 1650.2,557.61 1652.9,554.58 1655.6,551.56 1658.3,548.53 1661,545.51 1663.7,542.49 1666.4,539.46 1669.1,536.44 1671.8,533.41 1674.5,530.39 1677.2,527.37 1679.9,524.34 1682.6,521.32 1685.3,518.29 1688,515.27 1690.7,512.25 1693.4,509.22 1696.1,506.2 1698.8,503.17 1701.5,500.15 1704.2,497.13 1706.9,494.1 1709.6,491.08 1712.3,488.05 1715,485.03 1717.7,482.01 1720.4,478.98 1723.1,475.96 1725.8,472.93 1728.5,469.91 1731.2,466.89 1733.9,463.86 1736.6,460.84 1739.3,457.81 1742,454.79" fill="none" stroke="#f08228" stroke-width="2.5" marker-mid="url(#mO)" marker-start="url(#mO)"/>
</g>
<rect x="1474.5" y="340" width="267.5" height="235.75" fill="none" stroke="#111" stroke-width="2.2" />
<line x1="1482.5" y1="575.75" x2="1482.5" y2="570.75" stroke="#111" stroke-width="2.0" />
<line x1="1482.5" y1="340" x2="1482.5" y2="345" stroke="#111" stroke-width="2.0" />
<line x1="1525.62" y1="575.75" x2="1525.62" y2="572.75" stroke="#111" stroke-width="2.0" />
<line x1="1525.62" y1="340" x2="1525.62" y2="343" stroke="#111" stroke-width="2.0" />
<line x1="1568.75" y1="575.75" x2="1568.75" y2="570.75" stroke="#111" stroke-width="2.0" />
<line x1="1568.75" y1="340" x2="1568.75" y2="345" stroke="#111" stroke-width="2.0" />
<line x1="1611.88" y1="575.75" x2="1611.88" y2="572.75" stroke="#111" stroke-width="2.0" />
<line x1="1611.88" y1="340" x2="1611.88" y2="343" stroke="#111" stroke-width="2.0" />
<line x1="1655" y1="575.75" x2="1655" y2="570.75" stroke="#111" stroke-width="2.0" />
<line x1="1655" y1="340" x2="1655" y2="345" stroke="#111" stroke-width="2.0" />
<line x1="1698.12" y1="575.75" x2="1698.12" y2="572.75" stroke="#111" stroke-width="2.0" />
<line x1="1698.12" y1="340" x2="1698.12" y2="343" stroke="#111" stroke-width="2.0" />
<line x1="1741.25" y1="575.75" x2="1741.25" y2="570.75" stroke="#111" stroke-width="2.0" />
<line x1="1741.25" y1="340" x2="1741.25" y2="345" stroke="#111" stroke-width="2.0" />
<line x1="1474.5" y1="575.75" x2="1479.5" y2="575.75" stroke="#111" stroke-width="2.0" />
<line x1="1742" y1="575.75" x2="1737" y2="575.75" stroke="#111" stroke-width="2.0" />
<line x1="1474.5" y1="538.88" x2="1477.5" y2="538.88" stroke="#111" stroke-width="2.0" />
<line x1="1742" y1="538.88" x2="1739" y2="538.88" stroke="#111" stroke-width="2.0" />
<line x1="1474.5" y1="502" x2="1479.5" y2="502" stroke="#111" stroke-width="2.0" />
<line x1="1742" y1="502" x2="1737" y2="502" stroke="#111" stroke-width="2.0" />
<line x1="1474.5" y1="465.12" x2="1477.5" y2="465.12" stroke="#111" stroke-width="2.0" />
<line x1="1742" y1="465.12" x2="1739" y2="465.12" stroke="#111" stroke-width="2.0" />
<line x1="1474.5" y1="428.25" x2="1479.5" y2="428.25" stroke="#111" stroke-width="2.0" />
<line x1="1742" y1="428.25" x2="1737" y2="428.25" stroke="#111" stroke-width="2.0" />
<line x1="1474.5" y1="391.38" x2="1477.5" y2="391.38" stroke="#111" stroke-width="2.0" />
<line x1="1742" y1="391.38" x2="1739" y2="391.38" stroke="#111" stroke-width="2.0" />
<line x1="1474.5" y1="354.5" x2="1479.5" y2="354.5" stroke="#111" stroke-width="2.0" />
<line x1="1742" y1="354.5" x2="1737" y2="354.5" stroke="#111" stroke-width="2.0" />
<text transform="translate(1471,584.25) scale(1,1.07)" font-size="20" text-anchor="end" fill="#222" >0.00</text>
<text transform="translate(1471,510.5) scale(1,1.07)" font-size="20" text-anchor="end" fill="#222" >0.02</text>
<text transform="translate(1471,436.75) scale(1,1.07)" font-size="20" text-anchor="end" fill="#222" >0.04</text>
<text transform="translate(1471,363) scale(1,1.07)" font-size="20" text-anchor="end" fill="#222" >0.06</text>
<text transform="translate(1481.5,595.5) scale(1,1.07)" font-size="20" text-anchor="middle" fill="#222" >-600</text>
<text transform="translate(1567.75,595.5) scale(1,1.07)" font-size="20" text-anchor="middle" fill="#222" >-400</text>
<text transform="translate(1654,595.5) scale(1,1.07)" font-size="20" text-anchor="middle" fill="#222" >-200</text>
<text transform="translate(1741.25,595.5) scale(1,1.07)" font-size="20" text-anchor="middle" fill="#222" >0</text>
<text transform="translate(1425.5,472.5) scale(1,1.07) rotate(-90)" font-size="21.5" text-anchor="middle" >Moment (emu/g)</text>
<text transform="translate(1554,612.5) scale(1,1.07)"><tspan y="0" font-size="22" font-style="italic">μ</tspan><tspan y="7.48" font-size="15">0</tspan><tspan y="0" font-size="22" font-style="italic">H</tspan><tspan y="7.48" font-size="15" font-style="italic">FC</tspan><tspan y="0" font-size="22"> (Oe)</tspan></text>
<line x1="1490" y1="356.4" x2="1514" y2="356.4" stroke="#1414f0" stroke-width="2.8" />
<polygon points="1497.88,356.4 1505.86,352.2 1505.86,360.6" fill="#fff" stroke="#1414f0" stroke-width="1.9" stroke-linejoin="round"/>
<text transform="translate(1518,362) scale(1,1.0)" font-size="15.5" fill="#222" >1st</text>
<line x1="1490" y1="377.1" x2="1514" y2="377.1" stroke="#148c14" stroke-width="2.8" />
<polygon points="1502.5,372.27 1503.73,375.4 1507.09,375.61 1504.5,377.75 1505.34,381.01 1502.5,379.2 1499.66,381.01 1500.5,377.75 1497.91,375.61 1501.27,375.4" fill="#fff" stroke="#148c14" stroke-width="1.9" stroke-linejoin="round"/>
<text transform="translate(1518,382.7) scale(1,1.0)" font-size="15.5" fill="#222" >2nd</text>
<line x1="1490" y1="397.8" x2="1514" y2="397.8" stroke="#f014f0" stroke-width="2.8" />
<polygon points="1502.5,392.55 1506.7,397.8 1502.5,403.05 1498.3,397.8" fill="#fff" stroke="#f014f0" stroke-width="1.9" stroke-linejoin="round"/>
<text transform="translate(1518,403.4) scale(1,1.0)" font-size="15.5" fill="#222" >3rd</text>
<line x1="1490" y1="418.5" x2="1514" y2="418.5" stroke="#111" stroke-width="2.8" />
<polygon points="1502.5,423.33 1506.7,415.56 1498.3,415.56" fill="#fff" stroke="#111" stroke-width="1.9" stroke-linejoin="round"/>
<text transform="translate(1518,424.1) scale(1,1.0)" font-size="15.5" fill="#222" >4th</text>
<line x1="1490" y1="439.2" x2="1514" y2="439.2" stroke="#f01414" stroke-width="2.8" />
<polygon points="1502.5,434.37 1506.7,442.14 1498.3,442.14" fill="#fff" stroke="#f01414" stroke-width="1.9" stroke-linejoin="round"/>
<text transform="translate(1518,444.8) scale(1,1.0)" font-size="15.5" fill="#222" >5th</text>
<line x1="1490" y1="459.9" x2="1514" y2="459.9" stroke="#148c8c" stroke-width="2.8" />
<polygon points="1506.7,459.9 1504.6,463.54 1500.4,463.54 1498.3,459.9 1500.4,456.26 1504.6,456.26" fill="#fff" stroke="#148c8c" stroke-width="1.9" stroke-linejoin="round"/>
<text transform="translate(1518,465.5) scale(1,1.0)" font-size="15.5" fill="#222" >6th</text>
<line x1="1490" y1="480.6" x2="1514" y2="480.6" stroke="#f08228" stroke-width="2.8" />
<circle cx="1502.5" cy="480.6" r="4.2" fill="#fff" stroke="#f08228" stroke-width="1.9"/>
<text transform="translate(1518,486.2) scale(1,1.0)" font-size="15.5" fill="#222" >7th</text>
<text transform="translate(8,844) scale(1,1.0)" font-size="80" font-family="'Liberation Serif', 'Times New Roman', serif" >(c)</text>
<rect x="198.5" y="834.75" width="670.25" height="571.25" fill="none" stroke="#111" stroke-width="2.4" />
<line x1="253.6" y1="1406" x2="253.6" y2="1396" stroke="#111" stroke-width="2.4" />
<line x1="253.6" y1="834.75" x2="253.6" y2="844.75" stroke="#111" stroke-width="2.4" />
<line x1="309.45" y1="1406" x2="309.45" y2="1401" stroke="#111" stroke-width="2.4" />
<line x1="309.45" y1="834.75" x2="309.45" y2="839.75" stroke="#111" stroke-width="2.4" />
<line x1="365.3" y1="1406" x2="365.3" y2="1396" stroke="#111" stroke-width="2.4" />
<line x1="365.3" y1="834.75" x2="365.3" y2="844.75" stroke="#111" stroke-width="2.4" />
<line x1="421.15" y1="1406" x2="421.15" y2="1401" stroke="#111" stroke-width="2.4" />
<line x1="421.15" y1="834.75" x2="421.15" y2="839.75" stroke="#111" stroke-width="2.4" />
<line x1="477" y1="1406" x2="477" y2="1396" stroke="#111" stroke-width="2.4" />
<line x1="477" y1="834.75" x2="477" y2="844.75" stroke="#111" stroke-width="2.4" />
<line x1="532.85" y1="1406" x2="532.85" y2="1401" stroke="#111" stroke-width="2.4" />
<line x1="532.85" y1="834.75" x2="532.85" y2="839.75" stroke="#111" stroke-width="2.4" />
<line x1="588.7" y1="1406" x2="588.7" y2="1396" stroke="#111" stroke-width="2.4" />
<line x1="588.7" y1="834.75" x2="588.7" y2="844.75" stroke="#111" stroke-width="2.4" />
<line x1="644.55" y1="1406" x2="644.55" y2="1401" stroke="#111" stroke-width="2.4" />
<line x1="644.55" y1="834.75" x2="644.55" y2="839.75" stroke="#111" stroke-width="2.4" />
<line x1="700.4" y1="1406" x2="700.4" y2="1396" stroke="#111" stroke-width="2.4" />
<line x1="700.4" y1="834.75" x2="700.4" y2="844.75" stroke="#111" stroke-width="2.4" />
<line x1="756.25" y1="1406" x2="756.25" y2="1401" stroke="#111" stroke-width="2.4" />
<line x1="756.25" y1="834.75" x2="756.25" y2="839.75" stroke="#111" stroke-width="2.4" />
<line x1="812.1" y1="1406" x2="812.1" y2="1396" stroke="#111" stroke-width="2.4" />
<line x1="812.1" y1="834.75" x2="812.1" y2="844.75" stroke="#111" stroke-width="2.4" />
<line x1="198.5" y1="1311.05" x2="203.5" y2="1311.05" stroke="#111" stroke-width="2.4" />
<line x1="868.75" y1="1311.05" x2="863.75" y2="1311.05" stroke="#111" stroke-width="2.4" />
<line x1="198.5" y1="1215.85" x2="208.5" y2="1215.85" stroke="#111" stroke-width="2.4" />
<line x1="868.75" y1="1215.85" x2="858.75" y2="1215.85" stroke="#111" stroke-width="2.4" />
<line x1="198.5" y1="1120.65" x2="203.5" y2="1120.65" stroke="#111" stroke-width="2.4" />
<line x1="868.75" y1="1120.65" x2="863.75" y2="1120.65" stroke="#111" stroke-width="2.4" />
<line x1="198.5" y1="1025.45" x2="208.5" y2="1025.45" stroke="#111" stroke-width="2.4" />
<line x1="868.75" y1="1025.45" x2="858.75" y2="1025.45" stroke="#111" stroke-width="2.4" />
<line x1="198.5" y1="930.25" x2="203.5" y2="930.25" stroke="#111" stroke-width="2.4" />
<line x1="868.75" y1="930.25" x2="863.75" y2="930.25" stroke="#111" stroke-width="2.4" />
<text transform="translate(186.5,1416.69) scale(1,1.167)" font-size="31.7" text-anchor="end" >0.00</text>
<text transform="translate(186.5,1226.29) scale(1,1.167)" font-size="31.7" text-anchor="end" >0.05</text>
<text transform="translate(186.5,1035.89) scale(1,1.167)" font-size="31.7" text-anchor="end" >0.10</text>
<text transform="translate(186.5,845.49) scale(1,1.167)" font-size="31.7" text-anchor="end" >0.15</text>
<text transform="translate(253.6,1444.69) scale(1,1.143)" font-size="31" text-anchor="middle" >0</text>
<text transform="translate(365.3,1444.69) scale(1,1.143)" font-size="31" text-anchor="middle" >10</text>
<text transform="translate(477,1444.69) scale(1,1.143)" font-size="31" text-anchor="middle" >20</text>
<text transform="translate(588.7,1444.69) scale(1,1.143)" font-size="31" text-anchor="middle" >30</text>
<text transform="translate(700.4,1444.69) scale(1,1.143)" font-size="31" text-anchor="middle" >40</text>
<text transform="translate(812.1,1444.69) scale(1,1.143)" font-size="31" text-anchor="middle" >50</text>
<text transform="translate(99.5,1148.7) scale(1,1.07) rotate(-90)" font-size="40.8" text-anchor="middle" >Moment (emu/g)</text>
<text transform="translate(427,1499.4) scale(1,1.07)"><tspan y="0" font-size="38.5" font-style="italic">μ</tspan><tspan y="14.95" font-size="28">0</tspan><tspan y="0" font-size="40" font-style="italic" dx="1.5">H</tspan><tspan y="16.45" font-size="26.5" font-style="italic" dx="-1">FC</tspan><tspan y="0" font-size="41.5" dx="-2"> (kOe)</tspan></text>
<polyline points="257.51,1400.54 263.76,1243.27 307.55,986.23 364.96,891.41 474.77,911.21 587.58,891.41 698.72,903.59 809.87,897.12" fill="none" stroke="#111" stroke-width="2.6" stroke-linejoin="round" />
<rect x="252.26" y="1395.29" width="10.5" height="10.5" fill="#000"/>
<rect x="258.51" y="1238.02" width="10.5" height="10.5" fill="#000"/>
<rect x="302.3" y="980.98" width="10.5" height="10.5" fill="#000"/>
<rect x="359.71" y="886.16" width="10.5" height="10.5" fill="#000"/>
<rect x="469.52" y="905.96" width="10.5" height="10.5" fill="#000"/>
<rect x="582.33" y="886.16" width="10.5" height="10.5" fill="#000"/>
<rect x="693.47" y="898.34" width="10.5" height="10.5" fill="#000"/>
<rect x="804.62" y="891.87" width="10.5" height="10.5" fill="#000"/>
<polyline points="255,1386.98 258.74,1379.59 263.76,1375.79 363.85,1340.75 477,1209 588.7,1057.44 699.28,980.13 812.1,942.44" fill="none" stroke="#f01414" stroke-width="2.6" stroke-linejoin="round" />
<circle cx="255" cy="1386.98" r="6" fill="#f01414" stroke="none" stroke-width="0"/>
<circle cx="258.74" cy="1379.59" r="6" fill="#f01414" stroke="none" stroke-width="0"/>
<circle cx="263.76" cy="1375.79" r="6" fill="#f01414" stroke="none" stroke-width="0"/>
<circle cx="363.85" cy="1340.75" r="6" fill="#f01414" stroke="none" stroke-width="0"/>
<circle cx="477" cy="1209" r="6" fill="#f01414" stroke="none" stroke-width="0"/>
<circle cx="588.7" cy="1057.44" r="6" fill="#f01414" stroke="none" stroke-width="0"/>
<circle cx="699.28" cy="980.13" r="6" fill="#f01414" stroke="none" stroke-width="0"/>
<circle cx="812.1" cy="942.44" r="6" fill="#f01414" stroke="none" stroke-width="0"/>
<text transform="translate(605,1229) scale(1,1.07)" font-size="32" >T = 5 K</text>
<line x1="604" y1="1258.5" x2="676.5" y2="1258.5" stroke="#111" stroke-width="2.6" />
<rect x="634.75" y="1253.25" width="10.5" height="10.5" fill="#000"/>
<text transform="translate(685.5,1270.5) scale(1,1.07)" font-size="32" >TRM</text>
<line x1="604" y1="1299.6" x2="676.5" y2="1299.6" stroke="#f01414" stroke-width="2.6" />
<circle cx="640" cy="1299.6" r="6" fill="#f01414" stroke="none" stroke-width="0"/>
<text transform="translate(685,1311.5) scale(1,1.07)" font-size="32" >IRM</text>
<text transform="translate(925,844) scale(1,1.0)" font-size="80" font-family="'Liberation Serif', 'Times New Roman', serif" >(d)</text>
<line x1="1089.25" y1="1003.2" x2="1772.25" y2="1003.2" stroke="#1414f0" stroke-width="3.2" stroke-dasharray="11 10.5"/>
<rect x="1086.25" y="831.5" width="686" height="600.75" fill="none" stroke="#111" stroke-width="2.4" />
<line x1="1154.85" y1="1432.25" x2="1154.85" y2="1422.25" stroke="#111" stroke-width="2.4" />
<line x1="1154.85" y1="831.5" x2="1154.85" y2="841.5" stroke="#111" stroke-width="2.4" />
<line x1="1223.45" y1="1432.25" x2="1223.45" y2="1427.25" stroke="#111" stroke-width="2.4" />
<line x1="1223.45" y1="831.5" x2="1223.45" y2="836.5" stroke="#111" stroke-width="2.4" />
<line x1="1292.05" y1="1432.25" x2="1292.05" y2="1422.25" stroke="#111" stroke-width="2.4" />
<line x1="1292.05" y1="831.5" x2="1292.05" y2="841.5" stroke="#111" stroke-width="2.4" />
<line x1="1360.65" y1="1432.25" x2="1360.65" y2="1427.25" stroke="#111" stroke-width="2.4" />
<line x1="1360.65" y1="831.5" x2="1360.65" y2="836.5" stroke="#111" stroke-width="2.4" />
<line x1="1429.25" y1="1432.25" x2="1429.25" y2="1422.25" stroke="#111" stroke-width="2.4" />
<line x1="1429.25" y1="831.5" x2="1429.25" y2="841.5" stroke="#111" stroke-width="2.4" />
<line x1="1497.85" y1="1432.25" x2="1497.85" y2="1427.25" stroke="#111" stroke-width="2.4" />
<line x1="1497.85" y1="831.5" x2="1497.85" y2="836.5" stroke="#111" stroke-width="2.4" />
<line x1="1566.45" y1="1432.25" x2="1566.45" y2="1422.25" stroke="#111" stroke-width="2.4" />
<line x1="1566.45" y1="831.5" x2="1566.45" y2="841.5" stroke="#111" stroke-width="2.4" />
<line x1="1635.05" y1="1432.25" x2="1635.05" y2="1427.25" stroke="#111" stroke-width="2.4" />
<line x1="1635.05" y1="831.5" x2="1635.05" y2="836.5" stroke="#111" stroke-width="2.4" />
<line x1="1703.65" y1="1432.25" x2="1703.65" y2="1422.25" stroke="#111" stroke-width="2.4" />
<line x1="1703.65" y1="831.5" x2="1703.65" y2="841.5" stroke="#111" stroke-width="2.4" />
<line x1="1086.25" y1="917.24" x2="1091.25" y2="917.24" stroke="#111" stroke-width="2.4" />
<line x1="1772.25" y1="917.24" x2="1767.25" y2="917.24" stroke="#111" stroke-width="2.4" />
<line x1="1086.25" y1="1003.2" x2="1096.25" y2="1003.2" stroke="#111" stroke-width="2.4" />
<line x1="1772.25" y1="1003.2" x2="1762.25" y2="1003.2" stroke="#111" stroke-width="2.4" />
<line x1="1086.25" y1="1089.16" x2="1091.25" y2="1089.16" stroke="#111" stroke-width="2.4" />
<line x1="1772.25" y1="1089.16" x2="1767.25" y2="1089.16" stroke="#111" stroke-width="2.4" />
<line x1="1086.25" y1="1175.12" x2="1096.25" y2="1175.12" stroke="#111" stroke-width="2.4" />
<line x1="1772.25" y1="1175.12" x2="1762.25" y2="1175.12" stroke="#111" stroke-width="2.4" />
<line x1="1086.25" y1="1261.08" x2="1091.25" y2="1261.08" stroke="#111" stroke-width="2.4" />
<line x1="1772.25" y1="1261.08" x2="1767.25" y2="1261.08" stroke="#111" stroke-width="2.4" />
<line x1="1086.25" y1="1347.04" x2="1096.25" y2="1347.04" stroke="#111" stroke-width="2.4" />
<line x1="1772.25" y1="1347.04" x2="1762.25" y2="1347.04" stroke="#111" stroke-width="2.4" />
<text transform="translate(1075.5,839.56) scale(1,1.03)" font-size="29.5" text-anchor="end" >0.2</text>
<text transform="translate(1075.5,1011.48) scale(1,1.03)" font-size="29.5" text-anchor="end" >0.0</text>
<text transform="translate(1075.5,1183.4) scale(1,1.03)" font-size="29.5" text-anchor="end" >-0.2</text>
<text transform="translate(1075.5,1355.32) scale(1,1.03)" font-size="29.5" text-anchor="end" >-0.4</text>
<text transform="translate(1154.85,1466.24) scale(1,1.085)" font-size="27.4" text-anchor="middle" >5</text>
<text transform="translate(1292.05,1466.24) scale(1,1.085)" font-size="27.4" text-anchor="middle" >10</text>
<text transform="translate(1429.25,1466.24) scale(1,1.085)" font-size="27.4" text-anchor="middle" >15</text>
<text transform="translate(1566.45,1466.24) scale(1,1.085)" font-size="27.4" text-anchor="middle" >20</text>
<text transform="translate(1703.65,1466.24) scale(1,1.085)" font-size="27.4" text-anchor="middle" >25</text>
<text transform="translate(1000,1278.5) scale(1,1.07) rotate(-90)"><tspan y="0" font-size="35.5" font-style="italic">H</tspan><tspan y="14" font-size="17.5" font-style="italic">EB</tspan><tspan y="0" font-size="35.5"> &amp; </tspan><tspan y="0" font-size="35.5" font-style="italic">H</tspan><tspan y="12" font-size="17.5" font-style="italic">c</tspan><tspan y="0" font-size="35.5"> (kOe)</tspan></text>
<text transform="translate(1294,1515.5) scale(1,0.98)" font-size="37.5" >Temperature (K)</text>
<polyline points="1154.85,873.75 1209.73,873.75 1264.61,873.75 1374.37,997.5 1429.25,952.5 1511.57,925 1621.33,958 1703.65,982.5" fill="none" stroke="#111" stroke-width="2.6" stroke-linejoin="round" />
<rect x="1149.6" y="868.5" width="10.5" height="10.5" fill="#000"/>
<rect x="1204.48" y="868.5" width="10.5" height="10.5" fill="#000"/>
<rect x="1259.36" y="868.5" width="10.5" height="10.5" fill="#000"/>
<rect x="1369.12" y="992.25" width="10.5" height="10.5" fill="#000"/>
<rect x="1424" y="947.25" width="10.5" height="10.5" fill="#000"/>
<rect x="1506.32" y="919.75" width="10.5" height="10.5" fill="#000"/>
<rect x="1616.08" y="952.75" width="10.5" height="10.5" fill="#000"/>
<rect x="1698.4" y="977.25" width="10.5" height="10.5" fill="#000"/>
<polyline points="1154.85,1394.5 1209.73,1147.5 1264.61,1032.5 1374.37,1002.5 1429.25,997 1511.57,978.75 1621.33,987 1703.65,988.75" fill="none" stroke="#f01414" stroke-width="2.6" stroke-linejoin="round" />
<circle cx="1154.85" cy="1394.5" r="5.8" fill="#f01414" stroke="none" stroke-width="0"/>
<circle cx="1209.73" cy="1147.5" r="5.8" fill="#f01414" stroke="none" stroke-width="0"/>
<circle cx="1264.61" cy="1032.5" r="5.8" fill="#f01414" stroke="none" stroke-width="0"/>
<circle cx="1374.37" cy="1002.5" r="5.8" fill="#f01414" stroke="none" stroke-width="0"/>
<circle cx="1429.25" cy="997" r="5.8" fill="#f01414" stroke="none" stroke-width="0"/>
<circle cx="1511.57" cy="978.75" r="5.8" fill="#f01414" stroke="none" stroke-width="0"/>
<circle cx="1621.33" cy="987" r="5.8" fill="#f01414" stroke="none" stroke-width="0"/>
<circle cx="1703.65" cy="988.75" r="5.8" fill="#f01414" stroke="none" stroke-width="0"/>
<line x1="1372.5" y1="905" x2="1372.5" y2="975" stroke="#111" stroke-width="1.6" />
<polygon points="1372.5,994 1367.9,966 1377.1,966" fill="#111"/>
<text transform="translate(1357,887.5) scale(1,1.07)"><tspan y="0" font-size="27" font-style="italic">T</tspan><tspan y="11.21" font-size="17.5" font-style="italic">Z</tspan></text>
<text transform="translate(1173.5,906) scale(1,1.07)"><tspan y="0" font-size="27" font-style="italic">H</tspan><tspan y="11.21" font-size="17" font-style="italic" dx="2">c</tspan></text>
<text transform="translate(1127,1295.75) scale(1,1.07)"><tspan y="0" font-size="27" font-style="italic">H</tspan><tspan y="11.21" font-size="17" font-style="italic" dx="1">EB</tspan></text>
<text transform="translate(1536,890.8) scale(1,1.07)"><tspan y="0" font-size="28" font-style="italic">μ</tspan><tspan y="9.81" font-size="19.5">0</tspan><tspan y="0" font-size="28" font-style="italic">H</tspan><tspan y="9.81" font-size="19.5" font-style="italic">FC</tspan><tspan y="0" font-size="28.5"> = 10 kOe</tspan></text>
<rect x="1415.5" y="1055.5" width="328.0" height="288.0" fill="#fff"/>
<line x1="1415.5" y1="1199.5" x2="1743.5" y2="1199.5" stroke="#111" stroke-width="2.6" stroke-dasharray="12 7"/>
<line x1="1637.5" y1="1055.5" x2="1637.5" y2="1343.5" stroke="#111" stroke-width="2.6" stroke-dasharray="12 7"/>
<defs>
<marker id="dM" markerWidth="10" markerHeight="10" refX="5" refY="5" markerUnits="userSpaceOnUse"><circle cx="5" cy="5" r="2.6" fill="#fff" stroke="#f014f0" stroke-width="1.3"/></marker>
<marker id="dK" markerWidth="10" markerHeight="10" refX="5" refY="5" markerUnits="userSpaceOnUse"><circle cx="5" cy="5" r="2.6" fill="#fff" stroke="#111" stroke-width="1.3"/></marker>
<marker id="dT" markerWidth="10" markerHeight="10" refX="5" refY="5" markerUnits="userSpaceOnUse"><circle cx="5" cy="5" r="2.6" fill="#fff" stroke="#148c8c" stroke-width="1.3"/></marker>
<marker id="dR" markerWidth="10" markerHeight="10" refX="5" refY="5" markerUnits="userSpaceOnUse"><circle cx="5" cy="5" r="2.6" fill="#fff" stroke="#f01414" stroke-width="1.3"/></marker>
<marker id="dB" markerWidth="10" markerHeight="10" refX="5" refY="5" markerUnits="userSpaceOnUse"><circle cx="5" cy="5" r="2.6" fill="#fff" stroke="#1414f0" stroke-width="1.3"/></marker>
</defs>
<clipPath id="cid"><rect x="1415.5" y="1055.5" width="328.0" height="288.0"/></clipPath><g clip-path="url(#cid)">
<polyline points="1415,1205.2 1417.97,1202.52 1420.94,1199.84 1423.91,1197.15 1426.88,1194.47 1429.85,1191.79 1432.82,1189.11 1435.79,1186.42 1438.76,1183.74 1441.73,1181.06 1444.7,1178.38 1447.67,1175.7 1450.64,1173.01 1453.61,1170.33 1456.58,1167.65 1459.54,1164.97 1462.51,1162.29 1465.48,1159.6 1468.45,1156.92 1471.42,1154.24 1474.39,1151.56 1477.36,1148.88 1480.33,1146.19 1483.3,1143.51 1486.27,1140.83 1489.24,1138.15 1492.21,1135.46 1495.18,1132.78 1498.15,1130.1 1501.12,1127.42 1504.09,1124.74 1507.06,1122.05 1510.03,1119.37 1513,1116.69 1515.97,1114.01 1518.94,1111.33 1521.91,1108.64 1524.88,1105.96 1527.85,1103.28 1530.82,1100.6 1533.79,1097.91 1536.76,1095.23 1539.72,1092.55 1542.69,1089.87 1545.66,1087.19 1548.63,1084.5 1551.6,1081.82 1554.57,1079.14 1557.54,1076.46 1560.51,1073.78 1563.48,1071.09 1566.45,1068.41 1569.42,1065.73 1572.39,1063.05 1575.36,1060.36 1578.33,1057.68 1581.3,1055" fill="none" stroke="#f014f0" stroke-width="2.4"/>
<polyline points="1415,1301.8 1417.99,1299.12 1420.98,1296.43 1423.98,1293.75 1426.97,1291.07 1429.96,1288.39 1432.95,1285.7 1435.95,1283.02 1438.94,1280.34 1441.93,1277.66 1444.92,1274.97 1447.92,1272.29 1450.91,1269.61 1453.9,1266.93 1456.89,1264.24 1459.89,1261.56 1462.88,1258.88 1465.87,1256.2 1468.86,1253.51 1471.86,1250.83 1474.85,1248.15 1477.84,1245.47 1480.83,1242.78 1483.83,1240.1 1486.82,1237.42 1489.81,1234.73 1492.8,1232.05 1495.79,1229.37 1498.79,1226.69 1501.78,1224 1504.77,1221.32 1507.76,1218.64 1510.76,1215.96 1513.75,1213.27 1516.74,1210.59 1519.73,1207.91 1522.73,1205.23 1525.72,1202.54 1528.71,1199.86 1531.7,1197.18 1534.7,1194.5 1537.69,1191.81 1540.68,1189.13 1543.67,1186.45 1546.67,1183.77 1549.66,1181.08 1552.65,1178.4 1555.64,1175.72 1558.63,1173.03 1561.63,1170.35 1564.62,1167.67 1567.61,1164.99 1570.6,1162.3 1573.6,1159.62 1576.59,1156.94 1579.58,1154.26 1582.57,1151.57 1585.57,1148.89 1588.56,1146.21 1591.55,1143.53 1594.54,1140.84 1597.54,1138.16 1600.53,1135.48 1603.52,1132.8 1606.51,1130.11 1609.51,1127.43 1612.5,1124.75 1615.49,1122.07 1618.48,1119.38 1621.47,1116.7 1624.47,1114.02 1627.46,1111.33 1630.45,1108.65 1633.44,1105.97 1636.44,1103.29 1639.43,1100.6 1642.42,1097.92 1645.41,1095.24 1648.41,1092.56 1651.4,1089.87 1654.39,1087.19 1657.38,1084.51 1660.38,1081.83 1663.37,1079.14 1666.36,1076.46 1669.35,1073.78 1672.35,1071.1 1675.34,1068.41 1678.33,1065.73 1681.32,1063.05 1684.32,1060.37 1687.31,1057.68 1690.3,1055" fill="none" stroke="#f014f0" stroke-width="2.4"/>
<polyline points="1415,1332.1 1418.08,1329.52 1421.17,1326.94 1424.25,1324.36 1427.34,1321.78 1430.42,1319.2 1433.5,1316.62 1436.59,1314.04 1439.67,1311.46 1442.76,1308.88 1445.84,1306.3 1448.93,1303.72 1452.01,1301.14 1455.09,1298.56 1458.18,1295.97 1461.26,1293.39 1464.35,1290.81 1467.43,1288.23 1470.51,1285.65 1473.6,1283.07 1476.68,1280.49 1479.77,1277.91 1482.85,1275.33 1485.93,1272.75 1489.02,1270.17 1492.1,1267.59 1495.19,1265.01 1498.27,1262.43 1501.36,1259.85 1504.44,1257.27 1507.52,1254.69 1510.61,1252.11 1513.69,1249.53 1516.78,1246.95 1519.86,1244.37 1522.94,1241.79 1526.03,1239.21 1529.11,1236.63 1532.2,1234.05 1535.28,1231.47 1538.36,1228.89 1541.45,1226.3 1544.53,1223.72 1547.62,1221.14 1550.7,1218.56 1553.79,1215.98 1556.87,1213.4 1559.95,1210.82 1563.04,1208.24 1566.12,1205.66 1569.21,1203.08 1572.29,1200.5 1575.37,1197.92 1578.46,1195.34 1581.54,1192.76 1584.63,1190.18 1587.71,1187.6 1590.79,1185.02 1593.88,1182.44 1596.96,1179.86 1600.05,1177.28 1603.13,1174.7 1606.21,1172.12 1609.3,1169.54 1612.38,1166.96 1615.47,1164.38 1618.55,1161.8 1621.64,1159.21 1624.72,1156.63 1627.8,1154.05 1630.89,1151.47 1633.97,1148.89 1637.06,1146.31 1640.14,1143.73 1643.22,1141.15 1646.31,1138.57 1649.39,1135.99 1652.48,1133.41 1655.56,1130.83 1658.64,1128.25 1661.73,1125.67 1664.81,1123.09 1667.9,1120.51 1670.98,1117.93 1674.07,1115.35 1677.15,1112.77 1680.23,1110.19 1683.32,1107.61 1686.4,1105.03 1689.49,1102.45 1692.57,1099.87 1695.65,1097.29 1698.74,1094.71 1701.82,1092.13 1704.91,1089.54 1707.99,1086.96 1711.07,1084.38 1714.16,1081.8 1717.24,1079.22 1720.33,1076.64 1723.41,1074.06 1726.5,1071.48 1729.58,1068.9 1732.66,1066.32 1735.75,1063.74 1738.83,1061.16 1741.92,1058.58 1745,1056" fill="none" stroke="#111" stroke-width="2.2"/>
<polyline points="1637.5,1147 1640.76,1144.5 1644.02,1142 1647.27,1139.5 1650.53,1137 1653.79,1134.5 1657.05,1132 1660.3,1129.5 1663.56,1127 1666.82,1124.5 1670.08,1122 1673.33,1119.5 1676.59,1117 1679.85,1114.5 1683.11,1112 1686.36,1109.5 1689.62,1107 1692.88,1104.5 1696.14,1102 1699.39,1099.5 1702.65,1097 1705.91,1094.5 1709.17,1092 1712.42,1089.5 1715.68,1087 1718.94,1084.5 1722.2,1082 1725.45,1079.5 1728.71,1077 1731.97,1074.5 1735.23,1072 1738.48,1069.5 1741.74,1067 1745,1064.5" fill="none" stroke="#111" stroke-width="2.0" marker-mid="url(#dK)"/>
<polyline points="1517.3,1344 1520.34,1341.37 1523.37,1338.73 1526.41,1336.1 1529.44,1333.47 1532.48,1330.83 1535.52,1328.2 1538.55,1325.57 1541.59,1322.93 1544.62,1320.3 1547.66,1317.67 1550.7,1315.03 1553.73,1312.4 1556.77,1309.77 1559.8,1307.13 1562.84,1304.5 1565.88,1301.87 1568.91,1299.23 1571.95,1296.6 1574.98,1293.97 1578.02,1291.33 1581.06,1288.7 1584.09,1286.07 1587.13,1283.43 1590.16,1280.8 1593.2,1278.17 1596.24,1275.53 1599.27,1272.9 1602.31,1270.27 1605.34,1267.63 1608.38,1265 1611.42,1262.37 1614.45,1259.73 1617.49,1257.1 1620.52,1254.47 1623.56,1251.83 1626.6,1249.2 1629.63,1246.57 1632.67,1243.93 1635.7,1241.3 1638.74,1238.67 1641.78,1236.03 1644.81,1233.4 1647.85,1230.77 1650.88,1228.13 1653.92,1225.5 1656.96,1222.87 1659.99,1220.23 1663.03,1217.6 1666.06,1214.97 1669.1,1212.33 1672.14,1209.7 1675.17,1207.07 1678.21,1204.43 1681.24,1201.8 1684.28,1199.17 1687.32,1196.53 1690.35,1193.9 1693.39,1191.27 1696.42,1188.63 1699.46,1186 1702.5,1183.37 1705.53,1180.73 1708.57,1178.1 1711.6,1175.47 1714.64,1172.83 1717.68,1170.2 1720.71,1167.57 1723.75,1164.93 1726.78,1162.3 1729.82,1159.67 1732.86,1157.03 1735.89,1154.4 1738.93,1151.77 1741.96,1149.13 1745,1146.5" fill="none" stroke="#111" stroke-width="2.2"/>
<polyline points="1415,1342 1418.27,1339.64 1421.54,1337.28 1424.82,1334.92 1428.09,1332.56 1431.36,1330.21 1434.63,1327.85 1437.9,1325.49 1441.18,1323.13 1444.45,1320.77 1447.72,1318.41 1450.99,1316.05 1454.26,1313.69 1457.54,1311.34 1460.81,1308.98 1464.08,1306.62 1467.35,1304.26 1470.62,1301.9 1473.9,1299.54 1477.17,1297.18 1480.44,1294.82 1483.71,1292.46 1486.99,1290.11 1490.26,1287.75 1493.53,1285.39 1496.8,1283.03 1500.07,1280.67 1503.35,1278.31 1506.62,1275.95 1509.89,1273.59 1513.16,1271.24 1516.43,1268.88 1519.71,1266.52 1522.98,1264.16 1526.25,1261.8 1529.52,1259.44 1532.79,1257.08 1536.07,1254.72 1539.34,1252.36 1542.61,1250.01 1545.88,1247.65 1549.15,1245.29 1552.43,1242.93 1555.7,1240.57 1558.97,1238.21 1562.24,1235.85 1565.51,1233.49 1568.79,1231.14 1572.06,1228.78 1575.33,1226.42 1578.6,1224.06 1581.88,1221.7 1585.15,1219.34 1588.42,1216.98 1591.69,1214.62 1594.96,1212.26 1598.24,1209.91 1601.51,1207.55 1604.78,1205.19 1608.05,1202.83 1611.32,1200.47 1614.6,1198.11 1617.87,1195.75 1621.14,1193.39 1624.41,1191.04 1627.68,1188.68 1630.96,1186.32 1634.23,1183.96 1637.5,1181.6" fill="none" stroke="#1414f0" stroke-width="2.4" marker-mid="url(#dB)"/>
<polyline points="1637.5,1181.6 1640.76,1179.2 1644.02,1176.81 1647.27,1174.41 1650.53,1172.01 1653.79,1169.62 1657.05,1167.22 1660.3,1164.82 1663.56,1162.42 1666.82,1160.03 1670.08,1157.63 1673.33,1155.23 1676.59,1152.84 1679.85,1150.44 1683.11,1148.04 1686.36,1145.65 1689.62,1143.25 1692.88,1140.85 1696.14,1138.45 1699.39,1136.06 1702.65,1133.66 1705.91,1131.26 1709.17,1128.87 1712.42,1126.47 1715.68,1124.07 1718.94,1121.68 1722.2,1119.28 1725.45,1116.88 1728.71,1114.48 1731.97,1112.09 1735.23,1109.69 1738.48,1107.29 1741.74,1104.9 1745,1102.5" fill="none" stroke="#1414f0" stroke-width="2.4" marker-mid="url(#dB)"/>
<polyline points="1434,1344 1437.18,1341.55 1440.36,1339.09 1443.54,1336.64 1446.72,1334.19 1449.9,1331.73 1453.08,1329.28 1456.26,1326.83 1459.44,1324.38 1462.62,1321.92 1465.8,1319.47 1468.98,1317.02 1472.16,1314.56 1475.34,1312.11 1478.52,1309.66 1481.7,1307.2 1484.88,1304.75 1488.05,1302.3 1491.23,1299.84 1494.41,1297.39 1497.59,1294.94 1500.77,1292.48 1503.95,1290.03 1507.13,1287.58 1510.31,1285.12 1513.49,1282.67 1516.67,1280.22 1519.85,1277.77 1523.03,1275.31 1526.21,1272.86 1529.39,1270.41 1532.57,1267.95 1535.75,1265.5 1538.93,1263.05 1542.11,1260.59 1545.29,1258.14 1548.47,1255.69 1551.65,1253.23 1554.83,1250.78 1558.01,1248.33 1561.19,1245.88 1564.37,1243.42 1567.55,1240.97 1570.73,1238.52 1573.91,1236.06 1577.09,1233.61 1580.27,1231.16 1583.45,1228.7 1586.62,1226.25 1589.8,1223.8 1592.98,1221.34 1596.16,1218.89 1599.34,1216.44 1602.52,1213.98 1605.7,1211.53 1608.88,1209.08 1612.06,1206.62 1615.24,1204.17 1618.42,1201.72 1621.6,1199.27 1624.78,1196.81 1627.96,1194.36 1631.14,1191.91 1634.32,1189.45 1637.5,1187" fill="none" stroke="#f01414" stroke-width="2.4" marker-mid="url(#dR)"/>
<polyline points="1637.5,1187 1640.57,1184.39 1643.64,1181.77 1646.71,1179.16 1649.79,1176.54 1652.86,1173.93 1655.93,1171.31 1659,1168.7 1662.07,1166.09 1665.14,1163.47 1668.21,1160.86 1671.29,1158.24 1674.36,1155.63 1677.43,1153.01 1680.5,1150.4 1683.57,1147.79 1686.64,1145.17 1689.71,1142.56 1692.79,1139.94 1695.86,1137.33 1698.93,1134.71 1702,1132.1 1705.07,1129.49 1708.14,1126.87 1711.21,1124.26 1714.29,1121.64 1717.36,1119.03 1720.43,1116.41 1723.5,1113.8 1726.57,1111.19 1729.64,1108.57 1732.71,1105.96 1735.79,1103.34 1738.86,1100.73 1741.93,1098.11 1745,1095.5" fill="none" stroke="#f01414" stroke-width="2.4" marker-mid="url(#dR)"/>
<polyline points="1468,1344 1471.08,1341.38 1474.16,1338.76 1477.25,1336.15 1480.33,1333.53 1483.41,1330.91 1486.49,1328.29 1489.57,1325.67 1492.65,1323.05 1495.74,1320.44 1498.82,1317.82 1501.9,1315.2 1504.98,1312.58 1508.06,1309.96 1511.15,1307.35 1514.23,1304.73 1517.31,1302.11 1520.39,1299.49 1523.47,1296.87 1526.55,1294.25 1529.64,1291.64 1532.72,1289.02 1535.8,1286.4 1538.88,1283.78 1541.96,1281.16 1545.05,1278.55 1548.13,1275.93 1551.21,1273.31 1554.29,1270.69 1557.37,1268.07 1560.45,1265.45 1563.54,1262.84 1566.62,1260.22 1569.7,1257.6 1572.78,1254.98 1575.86,1252.36 1578.95,1249.75 1582.03,1247.13 1585.11,1244.51 1588.19,1241.89 1591.27,1239.27 1594.35,1236.65 1597.44,1234.04 1600.52,1231.42 1603.6,1228.8 1606.68,1226.18 1609.76,1223.56 1612.85,1220.95 1615.93,1218.33 1619.01,1215.71 1622.09,1213.09 1625.17,1210.47 1628.25,1207.85 1631.34,1205.24 1634.42,1202.62 1637.5,1200" fill="none" stroke="#148c8c" stroke-width="2.4" marker-mid="url(#dT)"/>
<polyline points="1637.5,1200 1640.66,1197.38 1643.82,1194.76 1646.99,1192.15 1650.15,1189.53 1653.31,1186.91 1656.47,1184.29 1659.63,1181.68 1662.79,1179.06 1665.96,1176.44 1669.12,1173.82 1672.28,1171.21 1675.44,1168.59 1678.6,1165.97 1681.76,1163.35 1684.93,1160.74 1688.09,1158.12 1691.25,1155.5 1694.41,1152.88 1697.57,1150.26 1700.74,1147.65 1703.9,1145.03 1707.06,1142.41 1710.22,1139.79 1713.38,1137.18 1716.54,1134.56 1719.71,1131.94 1722.87,1129.32 1726.03,1126.71 1729.19,1124.09 1732.35,1121.47 1735.51,1118.85 1738.68,1116.24 1741.84,1113.62 1745,1111" fill="none" stroke="#148c8c" stroke-width="2.4" marker-mid="url(#dT)"/>
<polyline points="1477,1344 1480.09,1341.37 1483.17,1338.73 1486.26,1336.1 1489.35,1333.46 1492.43,1330.83 1495.52,1328.19 1498.61,1325.56 1501.69,1322.92 1504.78,1320.29 1507.87,1317.65 1510.95,1315.02 1514.04,1312.38 1517.12,1309.75 1520.21,1307.12 1523.3,1304.48 1526.38,1301.85 1529.47,1299.21 1532.56,1296.58 1535.64,1293.94 1538.73,1291.31 1541.82,1288.67 1544.9,1286.04 1547.99,1283.4 1551.08,1280.77 1554.16,1278.13 1557.25,1275.5 1560.34,1272.87 1563.42,1270.23 1566.51,1267.6 1569.6,1264.96 1572.68,1262.33 1575.77,1259.69 1578.86,1257.06 1581.94,1254.42 1585.03,1251.79 1588.12,1249.15 1591.2,1246.52 1594.29,1243.88 1597.38,1241.25 1600.46,1238.62 1603.55,1235.98 1606.63,1233.35 1609.72,1230.71 1612.81,1228.08 1615.89,1225.44 1618.98,1222.81 1622.07,1220.17 1625.15,1217.54 1628.24,1214.9 1631.33,1212.27 1634.41,1209.63 1637.5,1207" fill="none" stroke="#148c8c" stroke-width="2.4" marker-mid="url(#dT)"/>
<polyline points="1637.5,1207 1640.76,1204.52 1644.02,1202.03 1647.27,1199.55 1650.53,1197.06 1653.79,1194.58 1657.05,1192.09 1660.3,1189.61 1663.56,1187.12 1666.82,1184.64 1670.08,1182.15 1673.33,1179.67 1676.59,1177.18 1679.85,1174.7 1683.11,1172.21 1686.36,1169.73 1689.62,1167.24 1692.88,1164.76 1696.14,1162.27 1699.39,1159.79 1702.65,1157.3 1705.91,1154.82 1709.17,1152.33 1712.42,1149.85 1715.68,1147.36 1718.94,1144.88 1722.2,1142.39 1725.45,1139.91 1728.71,1137.42 1731.97,1134.94 1735.23,1132.45 1738.48,1129.97 1741.74,1127.48 1745,1125" fill="none" stroke="#148c8c" stroke-width="2.4" marker-mid="url(#dT)"/>
<polyline points="1500,1344 1502.99,1341.3 1505.98,1338.6 1508.97,1335.9 1511.96,1333.2 1514.95,1330.5 1517.93,1327.8 1520.92,1325.1 1523.91,1322.4 1526.9,1319.7 1529.89,1317 1532.88,1314.3 1535.87,1311.6 1538.86,1308.9 1541.85,1306.2 1544.84,1303.5 1547.83,1300.8 1550.82,1298.1 1553.8,1295.4 1556.79,1292.7 1559.78,1290 1562.77,1287.3 1565.76,1284.6 1568.75,1281.9 1571.74,1279.2 1574.73,1276.5 1577.72,1273.8 1580.71,1271.1 1583.7,1268.4 1586.68,1265.7 1589.67,1263 1592.66,1260.3 1595.65,1257.6 1598.64,1254.9 1601.63,1252.2 1604.62,1249.5 1607.61,1246.8 1610.6,1244.1 1613.59,1241.4 1616.58,1238.7 1619.57,1236 1622.55,1233.3 1625.54,1230.6 1628.53,1227.9 1631.52,1225.2 1634.51,1222.5 1637.5,1219.8" fill="none" stroke="#f01414" stroke-width="2.4" marker-mid="url(#dR)"/>
<polyline points="1637.5,1219.8 1640.57,1217.18 1643.64,1214.55 1646.71,1211.93 1649.79,1209.31 1652.86,1206.69 1655.93,1204.06 1659,1201.44 1662.07,1198.82 1665.14,1196.19 1668.21,1193.57 1671.29,1190.95 1674.36,1188.33 1677.43,1185.7 1680.5,1183.08 1683.57,1180.46 1686.64,1177.83 1689.71,1175.21 1692.79,1172.59 1695.86,1169.97 1698.93,1167.34 1702,1164.72 1705.07,1162.1 1708.14,1159.47 1711.21,1156.85 1714.29,1154.23 1717.36,1151.61 1720.43,1148.98 1723.5,1146.36 1726.57,1143.74 1729.64,1141.11 1732.71,1138.49 1735.79,1135.87 1738.86,1133.25 1741.93,1130.62 1745,1128" fill="none" stroke="#f01414" stroke-width="2.4" marker-mid="url(#dR)"/>
<polyline points="1483.6,1344 1486.87,1341.64 1490.15,1339.29 1493.42,1336.93 1496.7,1334.58 1499.97,1332.22 1503.25,1329.87 1506.52,1327.51 1509.8,1325.16 1513.07,1322.8 1516.34,1320.45 1519.62,1318.09 1522.89,1315.74 1526.17,1313.38 1529.44,1311.03 1532.72,1308.67 1535.99,1306.31 1539.27,1303.96 1542.54,1301.6 1545.81,1299.25 1549.09,1296.89 1552.36,1294.54 1555.64,1292.18 1558.91,1289.83 1562.19,1287.47 1565.46,1285.12 1568.74,1282.76 1572.01,1280.41 1575.29,1278.05 1578.56,1275.7 1581.83,1273.34 1585.11,1270.99 1588.38,1268.63 1591.66,1266.27 1594.93,1263.92 1598.21,1261.56 1601.48,1259.21 1604.76,1256.85 1608.03,1254.5 1611.3,1252.14 1614.58,1249.79 1617.85,1247.43 1621.13,1245.08 1624.4,1242.72 1627.68,1240.37 1630.95,1238.01 1634.23,1235.66 1637.5,1233.3" fill="none" stroke="#1414f0" stroke-width="2.4" marker-mid="url(#dB)"/>
<polyline points="1637.5,1233.3 1640.76,1230.84 1644.02,1228.37 1647.27,1225.91 1650.53,1223.45 1653.79,1220.98 1657.05,1218.52 1660.3,1216.05 1663.56,1213.59 1666.82,1211.13 1670.08,1208.66 1673.33,1206.2 1676.59,1203.74 1679.85,1201.27 1683.11,1198.81 1686.36,1196.35 1689.62,1193.88 1692.88,1191.42 1696.14,1188.95 1699.39,1186.49 1702.65,1184.03 1705.91,1181.56 1709.17,1179.1 1712.42,1176.64 1715.68,1174.17 1718.94,1171.71 1722.2,1169.25 1725.45,1166.78 1728.71,1164.32 1731.97,1161.85 1735.23,1159.39 1738.48,1156.93 1741.74,1154.46 1745,1152" fill="none" stroke="#1414f0" stroke-width="2.4" marker-mid="url(#dB)"/>
</g>
<rect x="1415.5" y="1055.5" width="328" height="288" fill="none" stroke="#111" stroke-width="2.4" />
<line x1="1458.75" y1="1343.5" x2="1458.75" y2="1340" stroke="#111" stroke-width="2.2" />
<line x1="1458.75" y1="1055.5" x2="1458.75" y2="1059" stroke="#111" stroke-width="2.2" />
<line x1="1494.5" y1="1343.5" x2="1494.5" y2="1337.5" stroke="#111" stroke-width="2.2" />
<line x1="1494.5" y1="1055.5" x2="1494.5" y2="1061.5" stroke="#111" stroke-width="2.2" />
<line x1="1530.25" y1="1343.5" x2="1530.25" y2="1340" stroke="#111" stroke-width="2.2" />
<line x1="1530.25" y1="1055.5" x2="1530.25" y2="1059" stroke="#111" stroke-width="2.2" />
<line x1="1566" y1="1343.5" x2="1566" y2="1337.5" stroke="#111" stroke-width="2.2" />
<line x1="1566" y1="1055.5" x2="1566" y2="1061.5" stroke="#111" stroke-width="2.2" />
<line x1="1601.75" y1="1343.5" x2="1601.75" y2="1340" stroke="#111" stroke-width="2.2" />
<line x1="1601.75" y1="1055.5" x2="1601.75" y2="1059" stroke="#111" stroke-width="2.2" />
<line x1="1637.5" y1="1343.5" x2="1637.5" y2="1337.5" stroke="#111" stroke-width="2.2" />
<line x1="1637.5" y1="1055.5" x2="1637.5" y2="1061.5" stroke="#111" stroke-width="2.2" />
<line x1="1673.25" y1="1343.5" x2="1673.25" y2="1340" stroke="#111" stroke-width="2.2" />
<line x1="1673.25" y1="1055.5" x2="1673.25" y2="1059" stroke="#111" stroke-width="2.2" />
<line x1="1709" y1="1343.5" x2="1709" y2="1337.5" stroke="#111" stroke-width="2.2" />
<line x1="1709" y1="1055.5" x2="1709" y2="1061.5" stroke="#111" stroke-width="2.2" />
<line x1="1415.5" y1="1307.86" x2="1419" y2="1307.86" stroke="#111" stroke-width="2.2" />
<line x1="1743.5" y1="1307.86" x2="1740" y2="1307.86" stroke="#111" stroke-width="2.2" />
<line x1="1415.5" y1="1271.74" x2="1421.5" y2="1271.74" stroke="#111" stroke-width="2.2" />
<line x1="1743.5" y1="1271.74" x2="1737.5" y2="1271.74" stroke="#111" stroke-width="2.2" />
<line x1="1415.5" y1="1235.62" x2="1419" y2="1235.62" stroke="#111" stroke-width="2.2" />
<line x1="1743.5" y1="1235.62" x2="1740" y2="1235.62" stroke="#111" stroke-width="2.2" />
<line x1="1415.5" y1="1199.5" x2="1421.5" y2="1199.5" stroke="#111" stroke-width="2.2" />
<line x1="1743.5" y1="1199.5" x2="1737.5" y2="1199.5" stroke="#111" stroke-width="2.2" />
<line x1="1415.5" y1="1163.38" x2="1419" y2="1163.38" stroke="#111" stroke-width="2.2" />
<line x1="1743.5" y1="1163.38" x2="1740" y2="1163.38" stroke="#111" stroke-width="2.2" />
<line x1="1415.5" y1="1127.26" x2="1421.5" y2="1127.26" stroke="#111" stroke-width="2.2" />
<line x1="1743.5" y1="1127.26" x2="1737.5" y2="1127.26" stroke="#111" stroke-width="2.2" />
<line x1="1415.5" y1="1091.14" x2="1419" y2="1091.14" stroke="#111" stroke-width="2.2" />
<line x1="1743.5" y1="1091.14" x2="1740" y2="1091.14" stroke="#111" stroke-width="2.2" />
<text transform="translate(1409.5,1064.02) scale(1,1.07)" font-size="25" text-anchor="end" >0.06</text>
<text transform="translate(1409.5,1136.26) scale(1,1.07)" font-size="25" text-anchor="end" >0.03</text>
<text transform="translate(1409.5,1208.5) scale(1,1.07)" font-size="25" text-anchor="end" >0.00</text>
<text transform="translate(1409.5,1280.74) scale(1,1.07)" font-size="25" text-anchor="end" >-0.03</text>
<text transform="translate(1409.5,1352.98) scale(1,1.07)" font-size="25" text-anchor="end" >-0.06</text>
<text transform="translate(1421.5,1368.5) scale(1,1.07)" font-size="25" text-anchor="middle" >-600</text>
<text transform="translate(1493,1368.5) scale(1,1.07)" font-size="25" text-anchor="middle" >-400</text>
<text transform="translate(1564.5,1368.5) scale(1,1.07)" font-size="25" text-anchor="middle" >-200</text>
<text transform="translate(1637.5,1368.5) scale(1,1.07)" font-size="25" text-anchor="middle" >0</text>
<text transform="translate(1709,1368.5) scale(1,1.07)" font-size="25" text-anchor="middle" >200</text>
<text transform="translate(1337.5,1210) scale(1,1.07) rotate(-90)" font-size="30.5" text-anchor="middle" >Moment (emu/g)</text>
<text transform="translate(1505,1410) scale(1,0.94)"><tspan y="0" font-size="32" font-style="italic">μ</tspan><tspan y="11.7" font-size="22">0</tspan><tspan y="0" font-size="32" font-style="italic">H</tspan><tspan y="13.83" font-size="22" font-style="italic">FC</tspan><tspan y="0" font-size="32"> (Oe)</tspan></text>
<line x1="1653.75" y1="1230.75" x2="1695" y2="1230.75" stroke="#f014f0" stroke-width="2.6" />
<circle cx="1674" cy="1230.75" r="3.6" fill="#fff" stroke="#f014f0" stroke-width="1.6"/>
<text transform="translate(1700,1236.75) scale(1,0.92)" font-size="17.5" >5k</text>
<line x1="1653.75" y1="1253.15" x2="1695" y2="1253.15" stroke="#111" stroke-width="2.6" />
<circle cx="1674" cy="1253.15" r="3.6" fill="#fff" stroke="#111" stroke-width="1.6"/>
<text transform="translate(1700,1259.15) scale(1,0.92)" font-size="17.5" >9k</text>
<line x1="1653.75" y1="1275.55" x2="1695" y2="1275.55" stroke="#148c8c" stroke-width="2.6" />
<circle cx="1674" cy="1275.55" r="3.6" fill="#fff" stroke="#148c8c" stroke-width="1.6"/>
<text transform="translate(1700,1281.55) scale(1,0.92)" font-size="17.5" >13k</text>
<line x1="1653.75" y1="1297.95" x2="1695" y2="1297.95" stroke="#f01414" stroke-width="2.6" />
<circle cx="1674" cy="1297.95" r="3.6" fill="#fff" stroke="#f01414" stroke-width="1.6"/>
<text transform="translate(1700,1303.95) scale(1,0.92)" font-size="17.5" >15k</text>
<line x1="1653.75" y1="1320.35" x2="1695" y2="1320.35" stroke="#1414f0" stroke-width="2.6" />
<circle cx="1674" cy="1320.35" r="3.6" fill="#fff" stroke="#1414f0" stroke-width="1.6"/>
<text transform="translate(1700,1326.35) scale(1,0.92)" font-size="17.5" >18k</text>
</svg>
</body></html>
